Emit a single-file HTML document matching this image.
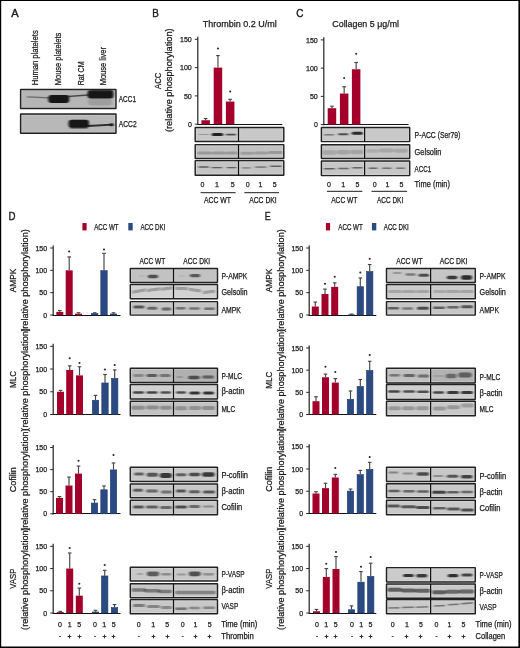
<!DOCTYPE html>
<html><head><meta charset="utf-8"><style>
html,body{margin:0;padding:0;background:#fff;}
body{width:520px;height:648px;overflow:hidden;font-family:"Liberation Sans", sans-serif;}
svg{display:block;will-change:transform;}
</style></head><body>
<svg width="520" height="648" viewBox="0 0 520 648" font-family='"Liberation Sans", sans-serif'>
<defs><filter id="bl" x="-20%" y="-100%" width="140%" height="300%"><feGaussianBlur stdDeviation="0.95 0.7"/></filter></defs>
<rect width="520" height="648" fill="#fff"/>
<line x1="0.60" y1="0.00" x2="0.60" y2="648.00" stroke="#000" stroke-width="1.2"/>
<line x1="0.00" y1="0.55" x2="520.00" y2="0.55" stroke="#000" stroke-width="1.1"/>
<line x1="519.20" y1="0.00" x2="519.20" y2="648.00" stroke="#000" stroke-width="1.6"/>
<line x1="0.00" y1="647.20" x2="520.00" y2="647.20" stroke="#000" stroke-width="1.6"/>
<text x="11.20" y="16.80" font-size="11.8" text-anchor="start" fill="#1a1a1a" stroke="#1a1a1a" stroke-width="0.4" textLength="7.40" lengthAdjust="spacingAndGlyphs">A</text>
<text transform="translate(38.10,85.30) rotate(-90)" x="0" y="0" font-size="9" text-anchor="start" fill="#1a1a1a" stroke="#1a1a1a" stroke-width="0.25" textLength="55.00" lengthAdjust="spacingAndGlyphs">Human platelets</text>
<text transform="translate(61.00,85.30) rotate(-90)" x="0" y="0" font-size="9" text-anchor="start" fill="#1a1a1a" stroke="#1a1a1a" stroke-width="0.25" textLength="52.60" lengthAdjust="spacingAndGlyphs">Mouse platelets</text>
<text transform="translate(84.10,85.30) rotate(-90)" x="0" y="0" font-size="9" text-anchor="start" fill="#1a1a1a" stroke="#1a1a1a" stroke-width="0.25" textLength="23.80" lengthAdjust="spacingAndGlyphs">Rat CM</text>
<text transform="translate(106.40,85.30) rotate(-90)" x="0" y="0" font-size="9" text-anchor="start" fill="#1a1a1a" stroke="#1a1a1a" stroke-width="0.25" textLength="38.30" lengthAdjust="spacingAndGlyphs">Mouse liver</text>
<rect x="20.60" y="89.40" width="95.40" height="19.10" fill="#b5b5b5" rx="0.3"/>
<g filter="url(#bl)">
<polygon points="27.00,96.15 49.50,97.15 49.50,98.45 27.00,97.45" fill="#141414" fill-opacity="0.48"/>
<rect x="48.30" y="95.00" width="20.90" height="8.00" rx="3.00" fill="#141414" fill-opacity="1.00"/>
<polygon points="68.00,95.75 88.00,94.25 88.00,95.75 68.00,97.25" fill="#141414" fill-opacity="0.68"/>
<rect x="87.50" y="90.00" width="26.00" height="8.60" rx="3.00" fill="#141414" fill-opacity="1.00"/>
<rect x="88.00" y="98.50" width="24.00" height="7.00" rx="3.00" fill="#141414" fill-opacity="0.13"/>
</g>
<rect x="21.85" y="90.65" width="92.90" height="16.60" fill="none" stroke="#fff" stroke-opacity="0.22" stroke-width="1"/>
<rect x="20.60" y="89.40" width="95.40" height="19.10" fill="none" stroke="#222222" stroke-width="1.45" rx="0.3"/>
<rect x="20.60" y="114.00" width="95.40" height="19.30" fill="#b8b8b8" rx="0.3"/>
<g filter="url(#bl)">
<rect x="68.50" y="119.80" width="20.50" height="8.00" rx="3.00" fill="#141414" fill-opacity="1.00"/>
<rect x="70.00" y="126.00" width="18.00" height="3.00" rx="1.50" fill="#141414" fill-opacity="0.44"/>
<polygon points="88.00,125.05 112.00,123.65 112.00,125.55 88.00,126.95" fill="#141414" fill-opacity="0.87"/>
<rect x="109.50" y="123.30" width="4.30" height="3.00" rx="1.50" fill="#141414" fill-opacity="0.97"/>
</g>
<rect x="21.85" y="115.25" width="92.90" height="16.80" fill="none" stroke="#fff" stroke-opacity="0.22" stroke-width="1"/>
<rect x="20.60" y="114.00" width="95.40" height="19.30" fill="none" stroke="#222222" stroke-width="1.45" rx="0.3"/>
<text x="118.80" y="102.24" font-size="8.5" text-anchor="start" fill="#1a1a1a" stroke="#1a1a1a" stroke-width="0.25" textLength="17.20" lengthAdjust="spacingAndGlyphs">ACC1</text>
<text x="118.80" y="127.24" font-size="8.5" text-anchor="start" fill="#1a1a1a" stroke="#1a1a1a" stroke-width="0.25" textLength="17.80" lengthAdjust="spacingAndGlyphs">ACC2</text>
<text x="152.20" y="16.80" font-size="11.8" text-anchor="start" fill="#1a1a1a" stroke="#1a1a1a" stroke-width="0.4" textLength="6.60" lengthAdjust="spacingAndGlyphs">B</text>
<text x="202.70" y="26.57" font-size="9.4" text-anchor="start" fill="#1a1a1a" stroke="#1a1a1a" stroke-width="0.25" textLength="74.00" lengthAdjust="spacingAndGlyphs">Thrombin 0.2 U/ml</text>
<text transform="translate(161.00,80.85) rotate(-90)" x="0" y="0" font-size="9.8" text-anchor="middle" fill="#1a1a1a" stroke="#1a1a1a" stroke-width="0.25" textLength="16.30" lengthAdjust="spacingAndGlyphs">ACC</text>
<text transform="translate(172.00,80.20) rotate(-90)" x="0" y="0" font-size="9.8" text-anchor="middle" fill="#1a1a1a" stroke="#1a1a1a" stroke-width="0.25" textLength="103.70" lengthAdjust="spacingAndGlyphs">(relative phosphorylation)</text>
<line x1="197.80" y1="36.70" x2="197.80" y2="124.80" stroke="#2a2a2a" stroke-width="1.25"/>
<line x1="197.20" y1="124.50" x2="282.30" y2="124.50" stroke="#141414" stroke-width="1.0"/>
<line x1="194.80" y1="124.20" x2="197.80" y2="124.20" stroke="#2a2a2a" stroke-width="1"/>
<text x="191.80" y="126.89" font-size="7.5" text-anchor="end" fill="#1a1a1a" stroke="#1a1a1a" stroke-width="0.25" textLength="3.90" lengthAdjust="spacingAndGlyphs">0</text>
<line x1="194.80" y1="95.90" x2="197.80" y2="95.90" stroke="#2a2a2a" stroke-width="1"/>
<text x="191.80" y="98.59" font-size="7.5" text-anchor="end" fill="#1a1a1a" stroke="#1a1a1a" stroke-width="0.25" textLength="7.90" lengthAdjust="spacingAndGlyphs">50</text>
<line x1="194.80" y1="67.60" x2="197.80" y2="67.60" stroke="#2a2a2a" stroke-width="1"/>
<text x="191.80" y="70.28" font-size="7.5" text-anchor="end" fill="#1a1a1a" stroke="#1a1a1a" stroke-width="0.25" textLength="11.80" lengthAdjust="spacingAndGlyphs">100</text>
<line x1="194.80" y1="39.30" x2="197.80" y2="39.30" stroke="#2a2a2a" stroke-width="1"/>
<text x="191.80" y="41.98" font-size="7.5" text-anchor="end" fill="#1a1a1a" stroke="#1a1a1a" stroke-width="0.25" textLength="11.80" lengthAdjust="spacingAndGlyphs">150</text>
<line x1="205.65" y1="120.24" x2="205.65" y2="118.54" stroke="#454545" stroke-width="1.15"/>
<line x1="203.85" y1="118.54" x2="207.45" y2="118.54" stroke="#454545" stroke-width="1.15"/>
<rect x="201.40" y="120.24" width="8.50" height="3.96" fill="#a3002b"/>
<line x1="217.95" y1="67.60" x2="217.95" y2="55.60" stroke="#454545" stroke-width="1.15"/>
<line x1="216.15" y1="55.60" x2="219.75" y2="55.60" stroke="#454545" stroke-width="1.15"/>
<rect x="213.70" y="67.60" width="8.50" height="56.60" fill="#a3002b"/>
<circle cx="217.95" cy="48.50" r="1.05" fill="#2a2a2a"/>
<line x1="230.15" y1="101.56" x2="230.15" y2="99.30" stroke="#454545" stroke-width="1.15"/>
<line x1="228.35" y1="99.30" x2="231.95" y2="99.30" stroke="#454545" stroke-width="1.15"/>
<rect x="225.90" y="101.56" width="8.50" height="22.64" fill="#a3002b"/>
<circle cx="230.15" cy="91.50" r="1.05" fill="#2a2a2a"/>
<rect x="195.20" y="127.40" width="88.60" height="14.10" fill="#c8c8c8" rx="0.3"/>
<g filter="url(#bl)">
<rect x="198.40" y="133.90" width="10.60" height="1.00" rx="0.50" fill="#141414" fill-opacity="0.24"/>
<rect x="211.70" y="132.90" width="11.50" height="3.20" rx="1.60" fill="#141414" fill-opacity="0.95"/>
<rect x="225.80" y="133.80" width="10.30" height="1.60" rx="0.80" fill="#141414" fill-opacity="0.68"/>
</g>
<rect x="196.45" y="128.65" width="86.10" height="11.60" fill="none" stroke="#fff" stroke-opacity="0.22" stroke-width="1"/>
<line x1="237.30" y1="128.40" x2="237.30" y2="140.50" stroke="#fff" stroke-width="1" stroke-opacity="0.22"/>
<line x1="239.70" y1="128.40" x2="239.70" y2="140.50" stroke="#fff" stroke-width="1" stroke-opacity="0.22"/>
<rect x="195.20" y="127.40" width="88.60" height="14.10" fill="none" stroke="#222222" stroke-width="1.45" rx="0.3"/>
<line x1="238.50" y1="127.40" x2="238.50" y2="141.50" stroke="#111" stroke-width="1.25"/>
<rect x="195.20" y="144.60" width="88.60" height="13.90" fill="#c2c2c2" rx="0.3"/>
<g filter="url(#bl)">
<rect x="197.00" y="151.50" width="15.00" height="3.00" rx="1.50" fill="#141414" fill-opacity="0.21"/>
<rect x="212.00" y="151.50" width="14.00" height="3.00" rx="1.50" fill="#141414" fill-opacity="0.21"/>
<rect x="226.00" y="151.50" width="12.00" height="3.00" rx="1.50" fill="#141414" fill-opacity="0.21"/>
<rect x="240.00" y="151.70" width="14.00" height="3.00" rx="1.50" fill="#141414" fill-opacity="0.19"/>
<rect x="254.00" y="151.50" width="14.00" height="3.00" rx="1.50" fill="#141414" fill-opacity="0.19"/>
<rect x="268.00" y="151.00" width="15.00" height="3.00" rx="1.50" fill="#141414" fill-opacity="0.21"/>
</g>
<rect x="196.45" y="145.85" width="86.10" height="11.40" fill="none" stroke="#fff" stroke-opacity="0.22" stroke-width="1"/>
<line x1="237.30" y1="145.60" x2="237.30" y2="157.50" stroke="#fff" stroke-width="1" stroke-opacity="0.22"/>
<line x1="239.70" y1="145.60" x2="239.70" y2="157.50" stroke="#fff" stroke-width="1" stroke-opacity="0.22"/>
<rect x="195.20" y="144.60" width="88.60" height="13.90" fill="none" stroke="#222222" stroke-width="1.45" rx="0.3"/>
<line x1="238.50" y1="144.60" x2="238.50" y2="158.50" stroke="#111" stroke-width="1.25"/>
<rect x="195.20" y="160.60" width="88.60" height="14.60" fill="#c4c4c4" rx="0.3"/>
<g filter="url(#bl)">
<rect x="198.40" y="166.30" width="10.60" height="1.40" rx="0.70" fill="#141414" fill-opacity="0.63"/>
<rect x="211.50" y="166.90" width="10.80" height="1.40" rx="0.70" fill="#141414" fill-opacity="0.58"/>
<rect x="226.70" y="166.90" width="9.80" height="1.40" rx="0.70" fill="#141414" fill-opacity="0.58"/>
<rect x="241.80" y="167.15" width="8.80" height="1.30" rx="0.65" fill="#141414" fill-opacity="0.44"/>
<rect x="255.00" y="166.40" width="11.50" height="1.40" rx="0.70" fill="#141414" fill-opacity="0.53"/>
<rect x="270.00" y="165.55" width="11.60" height="1.50" rx="0.75" fill="#141414" fill-opacity="0.58"/>
</g>
<rect x="196.45" y="161.85" width="86.10" height="12.10" fill="none" stroke="#fff" stroke-opacity="0.22" stroke-width="1"/>
<line x1="237.30" y1="161.60" x2="237.30" y2="174.20" stroke="#fff" stroke-width="1" stroke-opacity="0.22"/>
<line x1="239.70" y1="161.60" x2="239.70" y2="174.20" stroke="#fff" stroke-width="1" stroke-opacity="0.22"/>
<rect x="195.20" y="160.60" width="88.60" height="14.60" fill="none" stroke="#222222" stroke-width="1.45" rx="0.3"/>
<line x1="238.50" y1="160.60" x2="238.50" y2="175.20" stroke="#111" stroke-width="1.25"/>
<text x="202.50" y="186.83" font-size="7.9" text-anchor="middle" fill="#1a1a1a" stroke="#1a1a1a" stroke-width="0.25" textLength="3.90" lengthAdjust="spacingAndGlyphs">0</text>
<text x="216.90" y="186.83" font-size="7.9" text-anchor="middle" fill="#1a1a1a" stroke="#1a1a1a" stroke-width="0.25" textLength="3.90" lengthAdjust="spacingAndGlyphs">1</text>
<text x="232.70" y="186.83" font-size="7.9" text-anchor="middle" fill="#1a1a1a" stroke="#1a1a1a" stroke-width="0.25" textLength="3.90" lengthAdjust="spacingAndGlyphs">5</text>
<text x="247.70" y="186.83" font-size="7.9" text-anchor="middle" fill="#1a1a1a" stroke="#1a1a1a" stroke-width="0.25" textLength="3.90" lengthAdjust="spacingAndGlyphs">0</text>
<text x="260.40" y="186.83" font-size="7.9" text-anchor="middle" fill="#1a1a1a" stroke="#1a1a1a" stroke-width="0.25" textLength="3.90" lengthAdjust="spacingAndGlyphs">1</text>
<text x="274.60" y="186.83" font-size="7.9" text-anchor="middle" fill="#1a1a1a" stroke="#1a1a1a" stroke-width="0.25" textLength="3.90" lengthAdjust="spacingAndGlyphs">5</text>
<line x1="200.60" y1="192.70" x2="235.60" y2="192.70" stroke="#1a1a1a" stroke-width="1"/>
<line x1="244.40" y1="192.70" x2="279.00" y2="192.70" stroke="#1a1a1a" stroke-width="1"/>
<text x="204.00" y="203.14" font-size="8.2" text-anchor="start" fill="#1a1a1a" stroke="#1a1a1a" stroke-width="0.25" textLength="27.00" lengthAdjust="spacingAndGlyphs">ACC WT</text>
<text x="249.20" y="203.14" font-size="8.2" text-anchor="start" fill="#1a1a1a" stroke="#1a1a1a" stroke-width="0.25" textLength="27.50" lengthAdjust="spacingAndGlyphs">ACC DKI</text>
<text x="296.20" y="16.90" font-size="11.8" text-anchor="start" fill="#1a1a1a" stroke="#1a1a1a" stroke-width="0.4" textLength="7.20" lengthAdjust="spacingAndGlyphs">C</text>
<text x="332.30" y="26.57" font-size="9.4" text-anchor="start" fill="#1a1a1a" stroke="#1a1a1a" stroke-width="0.25" textLength="66.70" lengthAdjust="spacingAndGlyphs">Collagen 5 &#956;g/ml</text>
<line x1="323.80" y1="37.30" x2="323.80" y2="125.20" stroke="#2a2a2a" stroke-width="1.25"/>
<line x1="323.20" y1="124.50" x2="408.50" y2="124.50" stroke="#141414" stroke-width="1.0"/>
<line x1="320.80" y1="124.60" x2="323.80" y2="124.60" stroke="#2a2a2a" stroke-width="1"/>
<text x="317.80" y="127.28" font-size="7.5" text-anchor="end" fill="#1a1a1a" stroke="#1a1a1a" stroke-width="0.25" textLength="3.90" lengthAdjust="spacingAndGlyphs">0</text>
<line x1="320.80" y1="96.37" x2="323.80" y2="96.37" stroke="#2a2a2a" stroke-width="1"/>
<text x="317.80" y="99.05" font-size="7.5" text-anchor="end" fill="#1a1a1a" stroke="#1a1a1a" stroke-width="0.25" textLength="7.90" lengthAdjust="spacingAndGlyphs">50</text>
<line x1="320.80" y1="68.13" x2="323.80" y2="68.13" stroke="#2a2a2a" stroke-width="1"/>
<text x="317.80" y="70.82" font-size="7.5" text-anchor="end" fill="#1a1a1a" stroke="#1a1a1a" stroke-width="0.25" textLength="11.80" lengthAdjust="spacingAndGlyphs">100</text>
<line x1="320.80" y1="39.90" x2="323.80" y2="39.90" stroke="#2a2a2a" stroke-width="1"/>
<text x="317.80" y="42.59" font-size="7.5" text-anchor="end" fill="#1a1a1a" stroke="#1a1a1a" stroke-width="0.25" textLength="11.80" lengthAdjust="spacingAndGlyphs">150</text>
<line x1="331.95" y1="108.22" x2="331.95" y2="106.25" stroke="#454545" stroke-width="1.15"/>
<line x1="330.15" y1="106.25" x2="333.75" y2="106.25" stroke="#454545" stroke-width="1.15"/>
<rect x="327.70" y="108.22" width="8.50" height="16.38" fill="#a3002b"/>
<line x1="344.15" y1="93.54" x2="344.15" y2="86.77" stroke="#454545" stroke-width="1.15"/>
<line x1="342.35" y1="86.77" x2="345.95" y2="86.77" stroke="#454545" stroke-width="1.15"/>
<rect x="339.90" y="93.54" width="8.50" height="31.06" fill="#a3002b"/>
<circle cx="344.15" cy="78.00" r="1.05" fill="#2a2a2a"/>
<line x1="356.15" y1="69.26" x2="356.15" y2="62.49" stroke="#454545" stroke-width="1.15"/>
<line x1="354.35" y1="62.49" x2="357.95" y2="62.49" stroke="#454545" stroke-width="1.15"/>
<rect x="351.90" y="69.26" width="8.50" height="55.34" fill="#a3002b"/>
<circle cx="356.15" cy="53.80" r="1.05" fill="#2a2a2a"/>
<rect x="321.40" y="127.50" width="88.30" height="14.10" fill="#c8c8c8" rx="0.3"/>
<g filter="url(#bl)">
<rect x="323.90" y="133.95" width="10.30" height="1.50" rx="0.75" fill="#141414" fill-opacity="0.44"/>
<rect x="338.20" y="133.20" width="10.10" height="2.00" rx="1.00" fill="#141414" fill-opacity="0.68"/>
<rect x="351.80" y="131.80" width="11.00" height="3.00" rx="1.50" fill="#141414" fill-opacity="0.89"/>
</g>
<rect x="322.65" y="128.75" width="85.80" height="11.60" fill="none" stroke="#fff" stroke-opacity="0.22" stroke-width="1"/>
<line x1="363.40" y1="128.50" x2="363.40" y2="140.60" stroke="#fff" stroke-width="1" stroke-opacity="0.22"/>
<line x1="365.80" y1="128.50" x2="365.80" y2="140.60" stroke="#fff" stroke-width="1" stroke-opacity="0.22"/>
<rect x="321.40" y="127.50" width="88.30" height="14.10" fill="none" stroke="#222222" stroke-width="1.45" rx="0.3"/>
<line x1="364.60" y1="127.50" x2="364.60" y2="141.60" stroke="#111" stroke-width="1.25"/>
<rect x="321.40" y="144.70" width="88.30" height="13.90" fill="#c4c4c4" rx="0.3"/>
<g filter="url(#bl)">
<rect x="322.00" y="150.35" width="15.00" height="4.50" rx="2.25" fill="#141414" fill-opacity="0.15"/>
<rect x="337.00" y="149.95" width="13.00" height="4.50" rx="2.25" fill="#141414" fill-opacity="0.16"/>
<rect x="350.00" y="149.75" width="14.00" height="4.50" rx="2.25" fill="#141414" fill-opacity="0.16"/>
<rect x="366.00" y="149.25" width="13.00" height="3.50" rx="1.75" fill="#141414" fill-opacity="0.12"/>
<rect x="379.00" y="148.50" width="15.00" height="4.00" rx="2.00" fill="#141414" fill-opacity="0.15"/>
<rect x="394.00" y="148.70" width="14.00" height="4.00" rx="2.00" fill="#141414" fill-opacity="0.15"/>
</g>
<rect x="322.65" y="145.95" width="85.80" height="11.40" fill="none" stroke="#fff" stroke-opacity="0.22" stroke-width="1"/>
<line x1="363.40" y1="145.70" x2="363.40" y2="157.60" stroke="#fff" stroke-width="1" stroke-opacity="0.22"/>
<line x1="365.80" y1="145.70" x2="365.80" y2="157.60" stroke="#fff" stroke-width="1" stroke-opacity="0.22"/>
<rect x="321.40" y="144.70" width="88.30" height="13.90" fill="none" stroke="#222222" stroke-width="1.45" rx="0.3"/>
<line x1="364.60" y1="144.70" x2="364.60" y2="158.60" stroke="#111" stroke-width="1.25"/>
<rect x="321.40" y="161.00" width="88.30" height="14.60" fill="#c6c6c6" rx="0.3"/>
<g filter="url(#bl)">
<rect x="323.90" y="168.00" width="11.10" height="1.60" rx="0.80" fill="#141414" fill-opacity="0.58"/>
<rect x="338.00" y="167.70" width="11.00" height="1.60" rx="0.80" fill="#141414" fill-opacity="0.53"/>
<rect x="352.00" y="167.00" width="11.00" height="1.60" rx="0.80" fill="#141414" fill-opacity="0.53"/>
<rect x="368.70" y="167.55" width="8.80" height="1.50" rx="0.75" fill="#141414" fill-opacity="0.53"/>
<rect x="382.00" y="167.45" width="9.70" height="1.50" rx="0.75" fill="#141414" fill-opacity="0.48"/>
<rect x="396.00" y="167.45" width="9.00" height="1.50" rx="0.75" fill="#141414" fill-opacity="0.48"/>
</g>
<rect x="322.65" y="162.25" width="85.80" height="12.10" fill="none" stroke="#fff" stroke-opacity="0.22" stroke-width="1"/>
<line x1="363.40" y1="162.00" x2="363.40" y2="174.60" stroke="#fff" stroke-width="1" stroke-opacity="0.22"/>
<line x1="365.80" y1="162.00" x2="365.80" y2="174.60" stroke="#fff" stroke-width="1" stroke-opacity="0.22"/>
<rect x="321.40" y="161.00" width="88.30" height="14.60" fill="none" stroke="#222222" stroke-width="1.45" rx="0.3"/>
<line x1="364.60" y1="161.00" x2="364.60" y2="175.60" stroke="#111" stroke-width="1.25"/>
<text x="329.00" y="186.53" font-size="7.9" text-anchor="middle" fill="#1a1a1a" stroke="#1a1a1a" stroke-width="0.25" textLength="3.90" lengthAdjust="spacingAndGlyphs">0</text>
<text x="343.30" y="186.53" font-size="7.9" text-anchor="middle" fill="#1a1a1a" stroke="#1a1a1a" stroke-width="0.25" textLength="3.90" lengthAdjust="spacingAndGlyphs">1</text>
<text x="357.40" y="186.53" font-size="7.9" text-anchor="middle" fill="#1a1a1a" stroke="#1a1a1a" stroke-width="0.25" textLength="3.90" lengthAdjust="spacingAndGlyphs">5</text>
<text x="374.70" y="186.53" font-size="7.9" text-anchor="middle" fill="#1a1a1a" stroke="#1a1a1a" stroke-width="0.25" textLength="3.90" lengthAdjust="spacingAndGlyphs">0</text>
<text x="387.50" y="186.53" font-size="7.9" text-anchor="middle" fill="#1a1a1a" stroke="#1a1a1a" stroke-width="0.25" textLength="3.90" lengthAdjust="spacingAndGlyphs">1</text>
<text x="401.50" y="186.53" font-size="7.9" text-anchor="middle" fill="#1a1a1a" stroke="#1a1a1a" stroke-width="0.25" textLength="3.90" lengthAdjust="spacingAndGlyphs">5</text>
<line x1="327.00" y1="191.30" x2="362.30" y2="191.30" stroke="#1a1a1a" stroke-width="1"/>
<line x1="371.50" y1="191.30" x2="407.10" y2="191.30" stroke="#1a1a1a" stroke-width="1"/>
<text x="331.20" y="203.04" font-size="8.2" text-anchor="start" fill="#1a1a1a" stroke="#1a1a1a" stroke-width="0.25" textLength="26.20" lengthAdjust="spacingAndGlyphs">ACC WT</text>
<text x="377.00" y="203.04" font-size="8.2" text-anchor="start" fill="#1a1a1a" stroke="#1a1a1a" stroke-width="0.25" textLength="26.20" lengthAdjust="spacingAndGlyphs">ACC DKI</text>
<text x="414.60" y="137.94" font-size="8.2" text-anchor="start" fill="#1a1a1a" stroke="#1a1a1a" stroke-width="0.25" textLength="45.80" lengthAdjust="spacingAndGlyphs">P-ACC (Ser79)</text>
<text x="414.60" y="154.64" font-size="8.2" text-anchor="start" fill="#1a1a1a" stroke="#1a1a1a" stroke-width="0.25" textLength="26.80" lengthAdjust="spacingAndGlyphs">Gelsolin</text>
<text x="414.60" y="171.94" font-size="8.2" text-anchor="start" fill="#1a1a1a" stroke="#1a1a1a" stroke-width="0.25" textLength="16.50" lengthAdjust="spacingAndGlyphs">ACC1</text>
<text x="414.60" y="186.64" font-size="8.2" text-anchor="start" fill="#1a1a1a" stroke="#1a1a1a" stroke-width="0.25" textLength="35.30" lengthAdjust="spacingAndGlyphs">Time (min)</text>
<text x="8.40" y="220.00" font-size="11.8" text-anchor="start" fill="#1a1a1a" stroke="#1a1a1a" stroke-width="0.4" textLength="7.00" lengthAdjust="spacingAndGlyphs">D</text>
<text x="264.70" y="220.00" font-size="11.8" text-anchor="start" fill="#1a1a1a" stroke="#1a1a1a" stroke-width="0.4" textLength="6.00" lengthAdjust="spacingAndGlyphs">E</text>
<rect x="82.40" y="223.00" width="4.20" height="7.40" fill="#a3002b"/>
<rect x="128.30" y="223.00" width="4.40" height="7.40" fill="#2b4a82"/>
<text x="94.20" y="230.24" font-size="8.2" text-anchor="start" fill="#1a1a1a" stroke="#1a1a1a" stroke-width="0.25" textLength="24.40" lengthAdjust="spacingAndGlyphs">ACC WT</text>
<text x="140.40" y="230.24" font-size="8.2" text-anchor="start" fill="#1a1a1a" stroke="#1a1a1a" stroke-width="0.25" textLength="25.00" lengthAdjust="spacingAndGlyphs">ACC DKI</text>
<rect x="325.90" y="223.00" width="4.20" height="7.40" fill="#a3002b"/>
<rect x="371.90" y="223.00" width="4.40" height="7.40" fill="#2b4a82"/>
<text x="338.30" y="230.24" font-size="8.2" text-anchor="start" fill="#1a1a1a" stroke="#1a1a1a" stroke-width="0.25" textLength="24.40" lengthAdjust="spacingAndGlyphs">ACC WT</text>
<text x="383.80" y="230.24" font-size="8.2" text-anchor="start" fill="#1a1a1a" stroke="#1a1a1a" stroke-width="0.25" textLength="25.00" lengthAdjust="spacingAndGlyphs">ACC DKI</text>
<line x1="53.20" y1="245.40" x2="53.20" y2="315.60" stroke="#2a2a2a" stroke-width="1.25"/>
<line x1="52.60" y1="315.50" x2="120.50" y2="315.50" stroke="#141414" stroke-width="1.0"/>
<line x1="50.20" y1="315.00" x2="53.20" y2="315.00" stroke="#2a2a2a" stroke-width="1"/>
<text x="47.20" y="317.69" font-size="7.5" text-anchor="end" fill="#1a1a1a" stroke="#1a1a1a" stroke-width="0.25" textLength="3.90" lengthAdjust="spacingAndGlyphs">0</text>
<line x1="50.20" y1="292.67" x2="53.20" y2="292.67" stroke="#2a2a2a" stroke-width="1"/>
<text x="47.20" y="295.35" font-size="7.5" text-anchor="end" fill="#1a1a1a" stroke="#1a1a1a" stroke-width="0.25" textLength="7.90" lengthAdjust="spacingAndGlyphs">50</text>
<line x1="50.20" y1="270.33" x2="53.20" y2="270.33" stroke="#2a2a2a" stroke-width="1"/>
<text x="47.20" y="273.02" font-size="7.5" text-anchor="end" fill="#1a1a1a" stroke="#1a1a1a" stroke-width="0.25" textLength="11.80" lengthAdjust="spacingAndGlyphs">100</text>
<line x1="50.20" y1="248.00" x2="53.20" y2="248.00" stroke="#2a2a2a" stroke-width="1"/>
<text x="47.20" y="250.69" font-size="7.5" text-anchor="end" fill="#1a1a1a" stroke="#1a1a1a" stroke-width="0.25" textLength="11.80" lengthAdjust="spacingAndGlyphs">150</text>
<line x1="59.80" y1="311.87" x2="59.80" y2="310.53" stroke="#454545" stroke-width="1.15"/>
<line x1="58.00" y1="310.53" x2="61.60" y2="310.53" stroke="#454545" stroke-width="1.15"/>
<rect x="56.30" y="311.87" width="7.00" height="3.13" fill="#a3002b"/>
<line x1="69.20" y1="270.33" x2="69.20" y2="256.93" stroke="#454545" stroke-width="1.15"/>
<line x1="67.40" y1="256.93" x2="71.00" y2="256.93" stroke="#454545" stroke-width="1.15"/>
<rect x="65.70" y="270.33" width="7.00" height="44.67" fill="#a3002b"/>
<circle cx="69.20" cy="251.50" r="1.05" fill="#2a2a2a"/>
<line x1="78.50" y1="313.66" x2="78.50" y2="312.77" stroke="#454545" stroke-width="1.15"/>
<line x1="76.70" y1="312.77" x2="80.30" y2="312.77" stroke="#454545" stroke-width="1.15"/>
<rect x="75.00" y="313.66" width="7.00" height="1.34" fill="#a3002b"/>
<line x1="94.70" y1="313.21" x2="94.70" y2="312.77" stroke="#454545" stroke-width="1.15"/>
<line x1="92.90" y1="312.77" x2="96.50" y2="312.77" stroke="#454545" stroke-width="1.15"/>
<rect x="91.50" y="313.51" width="6.40" height="1.49" fill="#2b4a82" stroke="#1f3b70" stroke-width="0.6"/>
<line x1="104.00" y1="270.33" x2="104.00" y2="253.36" stroke="#454545" stroke-width="1.15"/>
<line x1="102.20" y1="253.36" x2="105.80" y2="253.36" stroke="#454545" stroke-width="1.15"/>
<rect x="100.80" y="270.63" width="6.40" height="44.37" fill="#2b4a82" stroke="#1f3b70" stroke-width="0.6"/>
<circle cx="104.00" cy="249.50" r="1.05" fill="#2a2a2a"/>
<line x1="113.50" y1="313.66" x2="113.50" y2="312.77" stroke="#454545" stroke-width="1.15"/>
<line x1="111.70" y1="312.77" x2="115.30" y2="312.77" stroke="#454545" stroke-width="1.15"/>
<rect x="110.30" y="313.96" width="6.40" height="1.04" fill="#2b4a82" stroke="#1f3b70" stroke-width="0.6"/>
<text transform="translate(16.10,280.50) rotate(-90)" x="0" y="0" font-size="9.5" text-anchor="middle" fill="#1a1a1a" stroke="#1a1a1a" stroke-width="0.25" textLength="23.50" lengthAdjust="spacingAndGlyphs">AMPK</text>
<text transform="translate(28.40,280.50) rotate(-90)" x="0" y="0" font-size="9.8" text-anchor="middle" fill="#1a1a1a" stroke="#1a1a1a" stroke-width="0.25" textLength="102.50" lengthAdjust="spacingAndGlyphs">(relative phosphorylation)</text>
<rect x="130.30" y="268.40" width="87.20" height="14.00" fill="#c2c2c2" rx="0.3"/>
<g filter="url(#bl)">
<rect x="138.60" y="275.25" width="6.40" height="1.50" rx="0.75" fill="#141414" fill-opacity="0.08"/>
<rect x="147.80" y="274.75" width="10.30" height="3.50" rx="1.75" fill="#141414" fill-opacity="0.66"/>
<rect x="178.40" y="275.25" width="6.20" height="1.50" rx="0.75" fill="#141414" fill-opacity="0.08"/>
<rect x="189.90" y="274.00" width="10.30" height="3.20" rx="1.60" fill="#141414" fill-opacity="0.60"/>
</g>
<rect x="131.55" y="269.65" width="84.70" height="11.50" fill="none" stroke="#fff" stroke-opacity="0.22" stroke-width="1"/>
<line x1="172.30" y1="269.40" x2="172.30" y2="281.40" stroke="#fff" stroke-width="1" stroke-opacity="0.22"/>
<line x1="174.70" y1="269.40" x2="174.70" y2="281.40" stroke="#fff" stroke-width="1" stroke-opacity="0.22"/>
<rect x="130.30" y="268.40" width="87.20" height="14.00" fill="none" stroke="#222222" stroke-width="1.45" rx="0.3"/>
<line x1="173.50" y1="268.40" x2="173.50" y2="282.40" stroke="#111" stroke-width="1.25"/>
<text x="221.40" y="278.57" font-size="8.3" text-anchor="start" fill="#1a1a1a" stroke="#1a1a1a" stroke-width="0.25" textLength="26.00" lengthAdjust="spacingAndGlyphs">P-AMPK</text>
<rect x="130.30" y="284.50" width="87.20" height="14.20" fill="#d2d2d2" rx="0.3"/>
<g filter="url(#bl)">
<polygon points="132.00,290.70 146.00,288.30 146.00,291.30 132.00,293.70" fill="#141414" fill-opacity="0.29"/>
<polygon points="147.00,289.10 160.50,287.30 160.50,290.30 147.00,292.10" fill="#141414" fill-opacity="0.29"/>
<polygon points="161.50,287.70 173.00,286.30 173.00,289.30 161.50,290.70" fill="#141414" fill-opacity="0.29"/>
<polygon points="175.00,286.80 188.00,287.30 188.00,290.30 175.00,289.80" fill="#141414" fill-opacity="0.29"/>
<polygon points="189.00,287.70 201.00,289.50 201.00,292.50 189.00,290.70" fill="#141414" fill-opacity="0.29"/>
<polygon points="203.00,291.10 215.00,289.70 215.00,292.70 203.00,294.10" fill="#141414" fill-opacity="0.29"/>
</g>
<rect x="131.55" y="285.75" width="84.70" height="11.70" fill="none" stroke="#fff" stroke-opacity="0.22" stroke-width="1"/>
<line x1="172.30" y1="285.50" x2="172.30" y2="297.70" stroke="#fff" stroke-width="1" stroke-opacity="0.22"/>
<line x1="174.70" y1="285.50" x2="174.70" y2="297.70" stroke="#fff" stroke-width="1" stroke-opacity="0.22"/>
<rect x="130.30" y="284.50" width="87.20" height="14.20" fill="none" stroke="#222222" stroke-width="1.45" rx="0.3"/>
<line x1="173.50" y1="284.50" x2="173.50" y2="298.70" stroke="#111" stroke-width="1.25"/>
<text x="221.40" y="294.77" font-size="8.3" text-anchor="start" fill="#1a1a1a" stroke="#1a1a1a" stroke-width="0.25" textLength="26.20" lengthAdjust="spacingAndGlyphs">Gelsolin</text>
<rect x="130.30" y="301.60" width="87.20" height="13.50" fill="#c4c4c4" rx="0.3"/>
<g filter="url(#bl)">
<rect x="133.30" y="305.40" width="11.00" height="3.00" rx="1.50" fill="#141414" fill-opacity="0.63"/>
<rect x="147.10" y="306.70" width="10.10" height="3.00" rx="1.50" fill="#141414" fill-opacity="0.53"/>
<rect x="161.60" y="307.50" width="9.70" height="3.00" rx="1.50" fill="#141414" fill-opacity="0.53"/>
<rect x="175.80" y="307.05" width="9.70" height="2.50" rx="1.25" fill="#141414" fill-opacity="0.48"/>
<rect x="189.00" y="307.25" width="10.70" height="2.50" rx="1.25" fill="#141414" fill-opacity="0.48"/>
<rect x="204.00" y="307.45" width="10.70" height="2.50" rx="1.25" fill="#141414" fill-opacity="0.48"/>
</g>
<rect x="131.55" y="302.85" width="84.70" height="11.00" fill="none" stroke="#fff" stroke-opacity="0.22" stroke-width="1"/>
<line x1="172.30" y1="302.60" x2="172.30" y2="314.10" stroke="#fff" stroke-width="1" stroke-opacity="0.22"/>
<line x1="174.70" y1="302.60" x2="174.70" y2="314.10" stroke="#fff" stroke-width="1" stroke-opacity="0.22"/>
<rect x="130.30" y="301.60" width="87.20" height="13.50" fill="none" stroke="#222222" stroke-width="1.45" rx="0.3"/>
<line x1="173.50" y1="301.60" x2="173.50" y2="315.10" stroke="#111" stroke-width="1.25"/>
<text x="221.40" y="312.57" font-size="8.3" text-anchor="start" fill="#1a1a1a" stroke="#1a1a1a" stroke-width="0.25" textLength="19.40" lengthAdjust="spacingAndGlyphs">AMPK</text>
<line x1="53.20" y1="343.70" x2="53.20" y2="415.10" stroke="#2a2a2a" stroke-width="1.25"/>
<line x1="52.60" y1="414.50" x2="120.50" y2="414.50" stroke="#141414" stroke-width="1.0"/>
<line x1="50.20" y1="414.50" x2="53.20" y2="414.50" stroke="#2a2a2a" stroke-width="1"/>
<text x="47.20" y="417.19" font-size="7.5" text-anchor="end" fill="#1a1a1a" stroke="#1a1a1a" stroke-width="0.25" textLength="3.90" lengthAdjust="spacingAndGlyphs">0</text>
<line x1="50.20" y1="391.77" x2="53.20" y2="391.77" stroke="#2a2a2a" stroke-width="1"/>
<text x="47.20" y="394.45" font-size="7.5" text-anchor="end" fill="#1a1a1a" stroke="#1a1a1a" stroke-width="0.25" textLength="7.90" lengthAdjust="spacingAndGlyphs">50</text>
<line x1="50.20" y1="369.03" x2="53.20" y2="369.03" stroke="#2a2a2a" stroke-width="1"/>
<text x="47.20" y="371.72" font-size="7.5" text-anchor="end" fill="#1a1a1a" stroke="#1a1a1a" stroke-width="0.25" textLength="11.80" lengthAdjust="spacingAndGlyphs">100</text>
<line x1="50.20" y1="346.30" x2="53.20" y2="346.30" stroke="#2a2a2a" stroke-width="1"/>
<text x="47.20" y="348.99" font-size="7.5" text-anchor="end" fill="#1a1a1a" stroke="#1a1a1a" stroke-width="0.25" textLength="11.80" lengthAdjust="spacingAndGlyphs">150</text>
<line x1="60.50" y1="391.77" x2="60.50" y2="390.40" stroke="#454545" stroke-width="1.15"/>
<line x1="58.70" y1="390.40" x2="62.30" y2="390.40" stroke="#454545" stroke-width="1.15"/>
<rect x="57.00" y="391.77" width="7.00" height="22.73" fill="#a3002b"/>
<line x1="69.70" y1="369.94" x2="69.70" y2="365.85" stroke="#454545" stroke-width="1.15"/>
<line x1="67.90" y1="365.85" x2="71.50" y2="365.85" stroke="#454545" stroke-width="1.15"/>
<rect x="66.20" y="369.94" width="7.00" height="44.56" fill="#a3002b"/>
<circle cx="69.70" cy="358.30" r="1.05" fill="#2a2a2a"/>
<line x1="79.50" y1="375.40" x2="79.50" y2="366.76" stroke="#454545" stroke-width="1.15"/>
<line x1="77.70" y1="366.76" x2="81.30" y2="366.76" stroke="#454545" stroke-width="1.15"/>
<rect x="76.00" y="375.40" width="7.00" height="39.10" fill="#a3002b"/>
<circle cx="79.50" cy="363.00" r="1.05" fill="#2a2a2a"/>
<line x1="95.50" y1="399.95" x2="95.50" y2="395.40" stroke="#454545" stroke-width="1.15"/>
<line x1="93.70" y1="395.40" x2="97.30" y2="395.40" stroke="#454545" stroke-width="1.15"/>
<rect x="92.30" y="400.25" width="6.40" height="14.25" fill="#2b4a82" stroke="#1f3b70" stroke-width="0.6"/>
<line x1="105.00" y1="382.67" x2="105.00" y2="374.49" stroke="#454545" stroke-width="1.15"/>
<line x1="103.20" y1="374.49" x2="106.80" y2="374.49" stroke="#454545" stroke-width="1.15"/>
<rect x="101.80" y="382.97" width="6.40" height="31.53" fill="#2b4a82" stroke="#1f3b70" stroke-width="0.6"/>
<circle cx="105.00" cy="369.50" r="1.05" fill="#2a2a2a"/>
<line x1="114.70" y1="378.13" x2="114.70" y2="369.94" stroke="#454545" stroke-width="1.15"/>
<line x1="112.90" y1="369.94" x2="116.50" y2="369.94" stroke="#454545" stroke-width="1.15"/>
<rect x="111.50" y="378.43" width="6.40" height="36.07" fill="#2b4a82" stroke="#1f3b70" stroke-width="0.6"/>
<circle cx="114.70" cy="365.00" r="1.05" fill="#2a2a2a"/>
<text transform="translate(16.10,379.40) rotate(-90)" x="0" y="0" font-size="9.5" text-anchor="middle" fill="#1a1a1a" stroke="#1a1a1a" stroke-width="0.25" textLength="17.00" lengthAdjust="spacingAndGlyphs">MLC</text>
<text transform="translate(28.40,379.40) rotate(-90)" x="0" y="0" font-size="9.8" text-anchor="middle" fill="#1a1a1a" stroke="#1a1a1a" stroke-width="0.25" textLength="102.50" lengthAdjust="spacingAndGlyphs">(relative phosphorylation)</text>
<rect x="130.30" y="368.30" width="43.20" height="14.20" fill="#bababa"/>
<rect x="173.50" y="368.30" width="44.00" height="14.20" fill="#b0b0b0"/>
<g filter="url(#bl)">
<rect x="133.30" y="374.35" width="10.60" height="2.50" rx="1.25" fill="#141414" fill-opacity="0.34"/>
<rect x="146.60" y="374.10" width="10.60" height="3.00" rx="1.50" fill="#141414" fill-opacity="0.58"/>
<rect x="159.80" y="374.10" width="10.70" height="3.00" rx="1.50" fill="#141414" fill-opacity="0.44"/>
<rect x="176.70" y="376.00" width="6.10" height="2.00" rx="1.00" fill="#141414" fill-opacity="0.17"/>
<rect x="188.20" y="375.65" width="11.50" height="3.50" rx="1.75" fill="#141414" fill-opacity="0.63"/>
<rect x="202.30" y="375.50" width="11.50" height="3.00" rx="1.50" fill="#141414" fill-opacity="0.53"/>
</g>
<rect x="131.55" y="369.55" width="84.70" height="11.70" fill="none" stroke="#fff" stroke-opacity="0.22" stroke-width="1"/>
<line x1="172.30" y1="369.30" x2="172.30" y2="381.50" stroke="#fff" stroke-width="1" stroke-opacity="0.22"/>
<line x1="174.70" y1="369.30" x2="174.70" y2="381.50" stroke="#fff" stroke-width="1" stroke-opacity="0.22"/>
<rect x="130.30" y="368.30" width="87.20" height="14.20" fill="none" stroke="#222222" stroke-width="1.45" rx="0.3"/>
<line x1="173.50" y1="368.30" x2="173.50" y2="382.50" stroke="#111" stroke-width="1.25"/>
<text x="221.40" y="379.07" font-size="8.3" text-anchor="start" fill="#1a1a1a" stroke="#1a1a1a" stroke-width="0.25" textLength="20.60" lengthAdjust="spacingAndGlyphs">P-MLC</text>
<rect x="130.30" y="384.40" width="87.20" height="14.60" fill="#d0d0d0" rx="0.3"/>
<g filter="url(#bl)">
<rect x="133.00" y="391.15" width="11.00" height="2.50" rx="1.25" fill="#141414" fill-opacity="0.73"/>
<rect x="146.50" y="391.15" width="11.00" height="2.50" rx="1.25" fill="#141414" fill-opacity="0.73"/>
<rect x="160.50" y="391.35" width="10.50" height="2.50" rx="1.25" fill="#141414" fill-opacity="0.68"/>
<rect x="176.00" y="391.35" width="10.00" height="2.50" rx="1.25" fill="#141414" fill-opacity="0.68"/>
<rect x="189.50" y="391.50" width="10.50" height="3.00" rx="1.50" fill="#141414" fill-opacity="0.82"/>
<rect x="203.00" y="391.50" width="11.00" height="3.00" rx="1.50" fill="#141414" fill-opacity="0.82"/>
</g>
<rect x="131.55" y="385.65" width="84.70" height="12.10" fill="none" stroke="#fff" stroke-opacity="0.22" stroke-width="1"/>
<line x1="172.30" y1="385.40" x2="172.30" y2="398.00" stroke="#fff" stroke-width="1" stroke-opacity="0.22"/>
<line x1="174.70" y1="385.40" x2="174.70" y2="398.00" stroke="#fff" stroke-width="1" stroke-opacity="0.22"/>
<rect x="130.30" y="384.40" width="87.20" height="14.60" fill="none" stroke="#222222" stroke-width="1.45" rx="0.3"/>
<line x1="173.50" y1="384.40" x2="173.50" y2="399.00" stroke="#111" stroke-width="1.25"/>
<text x="221.40" y="394.47" font-size="8.3" text-anchor="start" fill="#1a1a1a" stroke="#1a1a1a" stroke-width="0.25" textLength="23.00" lengthAdjust="spacingAndGlyphs">&#946;-actin</text>
<rect x="130.30" y="401.20" width="87.20" height="14.50" fill="#c2c2c2" rx="0.3"/>
<g filter="url(#bl)">
<rect x="131.00" y="405.80" width="14.00" height="4.00" rx="2.00" fill="#141414" fill-opacity="0.27"/>
<rect x="146.00" y="405.50" width="13.00" height="4.00" rx="2.00" fill="#141414" fill-opacity="0.27"/>
<rect x="160.00" y="405.80" width="12.00" height="4.00" rx="2.00" fill="#141414" fill-opacity="0.27"/>
<rect x="175.00" y="406.30" width="12.00" height="4.00" rx="2.00" fill="#141414" fill-opacity="0.29"/>
<rect x="189.00" y="406.00" width="12.00" height="4.00" rx="2.00" fill="#141414" fill-opacity="0.29"/>
<rect x="202.00" y="406.00" width="13.00" height="4.00" rx="2.00" fill="#141414" fill-opacity="0.27"/>
</g>
<rect x="131.55" y="402.45" width="84.70" height="12.00" fill="none" stroke="#fff" stroke-opacity="0.22" stroke-width="1"/>
<line x1="172.30" y1="402.20" x2="172.30" y2="414.70" stroke="#fff" stroke-width="1" stroke-opacity="0.22"/>
<line x1="174.70" y1="402.20" x2="174.70" y2="414.70" stroke="#fff" stroke-width="1" stroke-opacity="0.22"/>
<rect x="130.30" y="401.20" width="87.20" height="14.50" fill="none" stroke="#222222" stroke-width="1.45" rx="0.3"/>
<line x1="173.50" y1="401.20" x2="173.50" y2="415.70" stroke="#111" stroke-width="1.25"/>
<text x="221.40" y="412.17" font-size="8.3" text-anchor="start" fill="#1a1a1a" stroke="#1a1a1a" stroke-width="0.25" textLength="13.90" lengthAdjust="spacingAndGlyphs">MLC</text>
<line x1="53.20" y1="444.90" x2="53.20" y2="514.40" stroke="#2a2a2a" stroke-width="1.25"/>
<line x1="52.60" y1="513.50" x2="120.50" y2="513.50" stroke="#141414" stroke-width="1.0"/>
<line x1="50.20" y1="513.80" x2="53.20" y2="513.80" stroke="#2a2a2a" stroke-width="1"/>
<text x="47.20" y="516.48" font-size="7.5" text-anchor="end" fill="#1a1a1a" stroke="#1a1a1a" stroke-width="0.25" textLength="3.90" lengthAdjust="spacingAndGlyphs">0</text>
<line x1="50.20" y1="491.70" x2="53.20" y2="491.70" stroke="#2a2a2a" stroke-width="1"/>
<text x="47.20" y="494.38" font-size="7.5" text-anchor="end" fill="#1a1a1a" stroke="#1a1a1a" stroke-width="0.25" textLength="7.90" lengthAdjust="spacingAndGlyphs">50</text>
<line x1="50.20" y1="469.60" x2="53.20" y2="469.60" stroke="#2a2a2a" stroke-width="1"/>
<text x="47.20" y="472.28" font-size="7.5" text-anchor="end" fill="#1a1a1a" stroke="#1a1a1a" stroke-width="0.25" textLength="11.80" lengthAdjust="spacingAndGlyphs">100</text>
<line x1="50.20" y1="447.50" x2="53.20" y2="447.50" stroke="#2a2a2a" stroke-width="1"/>
<text x="47.20" y="450.19" font-size="7.5" text-anchor="end" fill="#1a1a1a" stroke="#1a1a1a" stroke-width="0.25" textLength="11.80" lengthAdjust="spacingAndGlyphs">150</text>
<line x1="59.50" y1="497.89" x2="59.50" y2="496.56" stroke="#454545" stroke-width="1.15"/>
<line x1="57.70" y1="496.56" x2="61.30" y2="496.56" stroke="#454545" stroke-width="1.15"/>
<rect x="56.00" y="497.89" width="7.00" height="15.91" fill="#a3002b"/>
<line x1="69.00" y1="485.51" x2="69.00" y2="477.11" stroke="#454545" stroke-width="1.15"/>
<line x1="67.20" y1="477.11" x2="70.80" y2="477.11" stroke="#454545" stroke-width="1.15"/>
<rect x="65.50" y="485.51" width="7.00" height="28.29" fill="#a3002b"/>
<line x1="78.50" y1="473.58" x2="78.50" y2="466.06" stroke="#454545" stroke-width="1.15"/>
<line x1="76.70" y1="466.06" x2="80.30" y2="466.06" stroke="#454545" stroke-width="1.15"/>
<rect x="75.00" y="473.58" width="7.00" height="40.22" fill="#a3002b"/>
<circle cx="78.50" cy="460.80" r="1.05" fill="#2a2a2a"/>
<line x1="94.50" y1="502.75" x2="94.50" y2="499.66" stroke="#454545" stroke-width="1.15"/>
<line x1="92.70" y1="499.66" x2="96.30" y2="499.66" stroke="#454545" stroke-width="1.15"/>
<rect x="91.30" y="503.05" width="6.40" height="10.75" fill="#2b4a82" stroke="#1f3b70" stroke-width="0.6"/>
<line x1="104.00" y1="489.49" x2="104.00" y2="485.95" stroke="#454545" stroke-width="1.15"/>
<line x1="102.20" y1="485.95" x2="105.80" y2="485.95" stroke="#454545" stroke-width="1.15"/>
<rect x="100.80" y="489.79" width="6.40" height="24.01" fill="#2b4a82" stroke="#1f3b70" stroke-width="0.6"/>
<line x1="113.50" y1="469.60" x2="113.50" y2="462.97" stroke="#454545" stroke-width="1.15"/>
<line x1="111.70" y1="462.97" x2="115.30" y2="462.97" stroke="#454545" stroke-width="1.15"/>
<rect x="110.30" y="469.90" width="6.40" height="43.90" fill="#2b4a82" stroke="#1f3b70" stroke-width="0.6"/>
<circle cx="113.50" cy="455.00" r="1.05" fill="#2a2a2a"/>
<text transform="translate(16.10,479.65) rotate(-90)" x="0" y="0" font-size="9.5" text-anchor="middle" fill="#1a1a1a" stroke="#1a1a1a" stroke-width="0.25" textLength="25.00" lengthAdjust="spacingAndGlyphs">Cofilin</text>
<text transform="translate(28.40,479.65) rotate(-90)" x="0" y="0" font-size="9.8" text-anchor="middle" fill="#1a1a1a" stroke="#1a1a1a" stroke-width="0.25" textLength="102.50" lengthAdjust="spacingAndGlyphs">(relative phosphorylation)</text>
<rect x="130.30" y="467.30" width="87.20" height="14.20" fill="#c8c8c8" rx="0.3"/>
<g filter="url(#bl)">
<rect x="134.20" y="472.60" width="9.70" height="3.00" rx="1.50" fill="#141414" fill-opacity="0.58"/>
<rect x="146.60" y="472.80" width="11.50" height="4.00" rx="2.00" fill="#141414" fill-opacity="0.63"/>
<rect x="159.80" y="473.00" width="12.10" height="5.00" rx="2.50" fill="#141414" fill-opacity="0.78"/>
<rect x="175.80" y="473.30" width="10.60" height="3.00" rx="1.50" fill="#141414" fill-opacity="0.58"/>
<rect x="189.00" y="472.85" width="11.20" height="3.50" rx="1.75" fill="#141414" fill-opacity="0.68"/>
<rect x="202.00" y="472.35" width="12.70" height="4.50" rx="2.25" fill="#141414" fill-opacity="0.78"/>
</g>
<rect x="131.55" y="468.55" width="84.70" height="11.70" fill="none" stroke="#fff" stroke-opacity="0.22" stroke-width="1"/>
<line x1="172.30" y1="468.30" x2="172.30" y2="480.50" stroke="#fff" stroke-width="1" stroke-opacity="0.22"/>
<line x1="174.70" y1="468.30" x2="174.70" y2="480.50" stroke="#fff" stroke-width="1" stroke-opacity="0.22"/>
<rect x="130.30" y="467.30" width="87.20" height="14.20" fill="none" stroke="#222222" stroke-width="1.45" rx="0.3"/>
<line x1="173.50" y1="467.30" x2="173.50" y2="481.50" stroke="#111" stroke-width="1.25"/>
<text x="221.40" y="478.07" font-size="8.3" text-anchor="start" fill="#1a1a1a" stroke="#1a1a1a" stroke-width="0.25" textLength="26.60" lengthAdjust="spacingAndGlyphs">P-cofilin</text>
<rect x="130.30" y="484.00" width="87.20" height="13.70" fill="#c6c6c6" rx="0.3"/>
<g filter="url(#bl)">
<rect x="133.00" y="488.70" width="10.00" height="3.00" rx="1.50" fill="#141414" fill-opacity="0.58"/>
<rect x="146.00" y="489.50" width="12.00" height="3.00" rx="1.50" fill="#141414" fill-opacity="0.53"/>
<rect x="161.00" y="490.50" width="11.00" height="3.00" rx="1.50" fill="#141414" fill-opacity="0.48"/>
<rect x="176.00" y="489.50" width="10.00" height="3.00" rx="1.50" fill="#141414" fill-opacity="0.63"/>
<rect x="189.00" y="490.20" width="11.00" height="3.00" rx="1.50" fill="#141414" fill-opacity="0.58"/>
<rect x="203.00" y="490.50" width="12.00" height="3.00" rx="1.50" fill="#141414" fill-opacity="0.63"/>
</g>
<rect x="131.55" y="485.25" width="84.70" height="11.20" fill="none" stroke="#fff" stroke-opacity="0.22" stroke-width="1"/>
<line x1="172.30" y1="485.00" x2="172.30" y2="496.70" stroke="#fff" stroke-width="1" stroke-opacity="0.22"/>
<line x1="174.70" y1="485.00" x2="174.70" y2="496.70" stroke="#fff" stroke-width="1" stroke-opacity="0.22"/>
<rect x="130.30" y="484.00" width="87.20" height="13.70" fill="none" stroke="#222222" stroke-width="1.45" rx="0.3"/>
<line x1="173.50" y1="484.00" x2="173.50" y2="497.70" stroke="#111" stroke-width="1.25"/>
<text x="221.40" y="493.97" font-size="8.3" text-anchor="start" fill="#1a1a1a" stroke="#1a1a1a" stroke-width="0.25" textLength="23.00" lengthAdjust="spacingAndGlyphs">&#946;-actin</text>
<rect x="130.30" y="500.20" width="87.20" height="14.50" fill="#c6c6c6" rx="0.3"/>
<g filter="url(#bl)">
<rect x="133.00" y="505.50" width="11.00" height="3.00" rx="1.50" fill="#141414" fill-opacity="0.63"/>
<rect x="146.00" y="505.50" width="12.00" height="3.00" rx="1.50" fill="#141414" fill-opacity="0.58"/>
<rect x="160.00" y="506.00" width="12.00" height="3.00" rx="1.50" fill="#141414" fill-opacity="0.53"/>
<rect x="175.00" y="505.50" width="12.00" height="3.00" rx="1.50" fill="#141414" fill-opacity="0.68"/>
<rect x="189.00" y="505.00" width="11.00" height="3.00" rx="1.50" fill="#141414" fill-opacity="0.53"/>
<rect x="203.00" y="505.50" width="11.00" height="2.00" rx="1.00" fill="#141414" fill-opacity="0.34"/>
</g>
<rect x="131.55" y="501.45" width="84.70" height="12.00" fill="none" stroke="#fff" stroke-opacity="0.22" stroke-width="1"/>
<line x1="172.30" y1="501.20" x2="172.30" y2="513.70" stroke="#fff" stroke-width="1" stroke-opacity="0.22"/>
<line x1="174.70" y1="501.20" x2="174.70" y2="513.70" stroke="#fff" stroke-width="1" stroke-opacity="0.22"/>
<rect x="130.30" y="500.20" width="87.20" height="14.50" fill="none" stroke="#222222" stroke-width="1.45" rx="0.3"/>
<line x1="173.50" y1="500.20" x2="173.50" y2="514.70" stroke="#111" stroke-width="1.25"/>
<text x="221.40" y="509.67" font-size="8.3" text-anchor="start" fill="#1a1a1a" stroke="#1a1a1a" stroke-width="0.25" textLength="20.90" lengthAdjust="spacingAndGlyphs">Cofilin</text>
<line x1="53.20" y1="543.70" x2="53.20" y2="613.60" stroke="#2a2a2a" stroke-width="1.25"/>
<line x1="52.60" y1="613.50" x2="120.50" y2="613.50" stroke="#141414" stroke-width="1.0"/>
<line x1="50.20" y1="613.00" x2="53.20" y2="613.00" stroke="#2a2a2a" stroke-width="1"/>
<text x="47.20" y="615.68" font-size="7.5" text-anchor="end" fill="#1a1a1a" stroke="#1a1a1a" stroke-width="0.25" textLength="3.90" lengthAdjust="spacingAndGlyphs">0</text>
<line x1="50.20" y1="590.77" x2="53.20" y2="590.77" stroke="#2a2a2a" stroke-width="1"/>
<text x="47.20" y="593.45" font-size="7.5" text-anchor="end" fill="#1a1a1a" stroke="#1a1a1a" stroke-width="0.25" textLength="7.90" lengthAdjust="spacingAndGlyphs">50</text>
<line x1="50.20" y1="568.53" x2="53.20" y2="568.53" stroke="#2a2a2a" stroke-width="1"/>
<text x="47.20" y="571.22" font-size="7.5" text-anchor="end" fill="#1a1a1a" stroke="#1a1a1a" stroke-width="0.25" textLength="11.80" lengthAdjust="spacingAndGlyphs">100</text>
<line x1="50.20" y1="546.30" x2="53.20" y2="546.30" stroke="#2a2a2a" stroke-width="1"/>
<text x="47.20" y="548.98" font-size="7.5" text-anchor="end" fill="#1a1a1a" stroke="#1a1a1a" stroke-width="0.25" textLength="11.80" lengthAdjust="spacingAndGlyphs">150</text>
<line x1="60.30" y1="612.11" x2="60.30" y2="611.44" stroke="#454545" stroke-width="1.15"/>
<line x1="58.50" y1="611.44" x2="62.10" y2="611.44" stroke="#454545" stroke-width="1.15"/>
<rect x="56.80" y="612.11" width="7.00" height="0.89" fill="#a3002b"/>
<line x1="69.70" y1="568.53" x2="69.70" y2="552.97" stroke="#454545" stroke-width="1.15"/>
<line x1="67.90" y1="552.97" x2="71.50" y2="552.97" stroke="#454545" stroke-width="1.15"/>
<rect x="66.20" y="568.53" width="7.00" height="44.47" fill="#a3002b"/>
<circle cx="69.70" cy="548.00" r="1.05" fill="#2a2a2a"/>
<line x1="79.30" y1="595.66" x2="79.30" y2="588.10" stroke="#454545" stroke-width="1.15"/>
<line x1="77.50" y1="588.10" x2="81.10" y2="588.10" stroke="#454545" stroke-width="1.15"/>
<rect x="75.80" y="595.66" width="7.00" height="17.34" fill="#a3002b"/>
<circle cx="79.30" cy="583.80" r="1.05" fill="#2a2a2a"/>
<line x1="95.50" y1="611.67" x2="95.50" y2="610.33" stroke="#454545" stroke-width="1.15"/>
<line x1="93.70" y1="610.33" x2="97.30" y2="610.33" stroke="#454545" stroke-width="1.15"/>
<rect x="92.30" y="611.97" width="6.40" height="1.03" fill="#2b4a82" stroke="#1f3b70" stroke-width="0.6"/>
<line x1="104.70" y1="575.65" x2="104.70" y2="570.31" stroke="#454545" stroke-width="1.15"/>
<line x1="102.90" y1="570.31" x2="106.50" y2="570.31" stroke="#454545" stroke-width="1.15"/>
<rect x="101.50" y="575.95" width="6.40" height="37.05" fill="#2b4a82" stroke="#1f3b70" stroke-width="0.6"/>
<circle cx="104.70" cy="565.00" r="1.05" fill="#2a2a2a"/>
<line x1="114.50" y1="607.22" x2="114.50" y2="604.55" stroke="#454545" stroke-width="1.15"/>
<line x1="112.70" y1="604.55" x2="116.30" y2="604.55" stroke="#454545" stroke-width="1.15"/>
<rect x="111.30" y="607.52" width="6.40" height="5.48" fill="#2b4a82" stroke="#1f3b70" stroke-width="0.6"/>
<text transform="translate(16.10,578.65) rotate(-90)" x="0" y="0" font-size="9.5" text-anchor="middle" fill="#1a1a1a" stroke="#1a1a1a" stroke-width="0.25" textLength="20.00" lengthAdjust="spacingAndGlyphs">VASP</text>
<text transform="translate(28.40,578.65) rotate(-90)" x="0" y="0" font-size="9.8" text-anchor="middle" fill="#1a1a1a" stroke="#1a1a1a" stroke-width="0.25" textLength="102.50" lengthAdjust="spacingAndGlyphs">(relative phosphorylation)</text>
<rect x="130.30" y="567.20" width="87.20" height="13.80" fill="#c8c8c8" rx="0.3"/>
<g filter="url(#bl)">
<rect x="136.80" y="572.90" width="6.20" height="2.00" rx="1.00" fill="#141414" fill-opacity="0.19"/>
<rect x="146.80" y="571.40" width="12.40" height="4.80" rx="2.40" fill="#141414" fill-opacity="0.60"/>
<rect x="161.30" y="573.05" width="10.00" height="2.50" rx="1.25" fill="#141414" fill-opacity="0.34"/>
<rect x="176.70" y="573.50" width="9.30" height="2.00" rx="1.00" fill="#141414" fill-opacity="0.24"/>
<rect x="188.80" y="571.40" width="11.90" height="4.80" rx="2.40" fill="#141414" fill-opacity="0.66"/>
<rect x="203.20" y="573.05" width="10.60" height="2.50" rx="1.25" fill="#141414" fill-opacity="0.32"/>
</g>
<rect x="131.55" y="568.45" width="84.70" height="11.30" fill="none" stroke="#fff" stroke-opacity="0.22" stroke-width="1"/>
<line x1="172.30" y1="568.20" x2="172.30" y2="580.00" stroke="#fff" stroke-width="1" stroke-opacity="0.22"/>
<line x1="174.70" y1="568.20" x2="174.70" y2="580.00" stroke="#fff" stroke-width="1" stroke-opacity="0.22"/>
<rect x="130.30" y="567.20" width="87.20" height="13.80" fill="none" stroke="#222222" stroke-width="1.45" rx="0.3"/>
<line x1="173.50" y1="567.20" x2="173.50" y2="581.00" stroke="#111" stroke-width="1.25"/>
<text x="221.40" y="576.67" font-size="8.3" text-anchor="start" fill="#1a1a1a" stroke="#1a1a1a" stroke-width="0.25" textLength="23.30" lengthAdjust="spacingAndGlyphs">P-VASP</text>
<rect x="130.30" y="583.70" width="87.20" height="14.00" fill="#c6c6c6" rx="0.3"/>
<g filter="url(#bl)">
<rect x="131.00" y="588.15" width="15.00" height="3.50" rx="1.75" fill="#141414" fill-opacity="0.44"/>
<rect x="144.00" y="588.95" width="16.00" height="3.50" rx="1.75" fill="#141414" fill-opacity="0.44"/>
<rect x="158.00" y="589.75" width="14.00" height="3.50" rx="1.75" fill="#141414" fill-opacity="0.44"/>
<rect x="175.00" y="590.85" width="41.00" height="3.50" rx="1.75" fill="#141414" fill-opacity="0.39"/>
</g>
<rect x="131.55" y="584.95" width="84.70" height="11.50" fill="none" stroke="#fff" stroke-opacity="0.22" stroke-width="1"/>
<line x1="172.30" y1="584.70" x2="172.30" y2="596.70" stroke="#fff" stroke-width="1" stroke-opacity="0.22"/>
<line x1="174.70" y1="584.70" x2="174.70" y2="596.70" stroke="#fff" stroke-width="1" stroke-opacity="0.22"/>
<rect x="130.30" y="583.70" width="87.20" height="14.00" fill="none" stroke="#222222" stroke-width="1.45" rx="0.3"/>
<line x1="173.50" y1="583.70" x2="173.50" y2="597.70" stroke="#111" stroke-width="1.25"/>
<text x="221.40" y="592.97" font-size="8.3" text-anchor="start" fill="#1a1a1a" stroke="#1a1a1a" stroke-width="0.25" textLength="23.00" lengthAdjust="spacingAndGlyphs">&#946;-actin</text>
<rect x="130.30" y="599.60" width="87.20" height="14.20" fill="#c8c8c8" rx="0.3"/>
<g filter="url(#bl)">
<rect x="133.00" y="604.10" width="12.00" height="3.00" rx="1.50" fill="#141414" fill-opacity="0.44"/>
<rect x="147.00" y="605.10" width="13.00" height="3.00" rx="1.50" fill="#141414" fill-opacity="0.39"/>
<rect x="161.00" y="606.00" width="11.00" height="3.00" rx="1.50" fill="#141414" fill-opacity="0.37"/>
<rect x="175.00" y="607.45" width="12.00" height="2.50" rx="1.25" fill="#141414" fill-opacity="0.48"/>
<rect x="189.00" y="606.75" width="11.00" height="2.50" rx="1.25" fill="#141414" fill-opacity="0.37"/>
<rect x="203.00" y="606.45" width="12.00" height="2.50" rx="1.25" fill="#141414" fill-opacity="0.39"/>
</g>
<rect x="131.55" y="600.85" width="84.70" height="11.70" fill="none" stroke="#fff" stroke-opacity="0.22" stroke-width="1"/>
<line x1="172.30" y1="600.60" x2="172.30" y2="612.80" stroke="#fff" stroke-width="1" stroke-opacity="0.22"/>
<line x1="174.70" y1="600.60" x2="174.70" y2="612.80" stroke="#fff" stroke-width="1" stroke-opacity="0.22"/>
<rect x="130.30" y="599.60" width="87.20" height="14.20" fill="none" stroke="#222222" stroke-width="1.45" rx="0.3"/>
<line x1="173.50" y1="599.60" x2="173.50" y2="613.80" stroke="#111" stroke-width="1.25"/>
<text x="221.40" y="608.67" font-size="8.3" text-anchor="start" fill="#1a1a1a" stroke="#1a1a1a" stroke-width="0.25" textLength="16.90" lengthAdjust="spacingAndGlyphs">VASP</text>
<line x1="309.20" y1="245.40" x2="309.20" y2="315.60" stroke="#2a2a2a" stroke-width="1.25"/>
<line x1="308.60" y1="315.50" x2="376.30" y2="315.50" stroke="#141414" stroke-width="1.0"/>
<line x1="306.20" y1="315.00" x2="309.20" y2="315.00" stroke="#2a2a2a" stroke-width="1"/>
<text x="303.20" y="317.69" font-size="7.5" text-anchor="end" fill="#1a1a1a" stroke="#1a1a1a" stroke-width="0.25" textLength="3.90" lengthAdjust="spacingAndGlyphs">0</text>
<line x1="306.20" y1="292.67" x2="309.20" y2="292.67" stroke="#2a2a2a" stroke-width="1"/>
<text x="303.20" y="295.35" font-size="7.5" text-anchor="end" fill="#1a1a1a" stroke="#1a1a1a" stroke-width="0.25" textLength="7.90" lengthAdjust="spacingAndGlyphs">50</text>
<line x1="306.20" y1="270.33" x2="309.20" y2="270.33" stroke="#2a2a2a" stroke-width="1"/>
<text x="303.20" y="273.02" font-size="7.5" text-anchor="end" fill="#1a1a1a" stroke="#1a1a1a" stroke-width="0.25" textLength="11.80" lengthAdjust="spacingAndGlyphs">100</text>
<line x1="306.20" y1="248.00" x2="309.20" y2="248.00" stroke="#2a2a2a" stroke-width="1"/>
<text x="303.20" y="250.69" font-size="7.5" text-anchor="end" fill="#1a1a1a" stroke="#1a1a1a" stroke-width="0.25" textLength="11.80" lengthAdjust="spacingAndGlyphs">150</text>
<line x1="315.30" y1="306.51" x2="315.30" y2="302.05" stroke="#454545" stroke-width="1.15"/>
<line x1="313.50" y1="302.05" x2="317.10" y2="302.05" stroke="#454545" stroke-width="1.15"/>
<rect x="311.80" y="306.51" width="7.00" height="8.49" fill="#a3002b"/>
<line x1="325.00" y1="294.01" x2="325.00" y2="289.09" stroke="#454545" stroke-width="1.15"/>
<line x1="323.20" y1="289.09" x2="326.80" y2="289.09" stroke="#454545" stroke-width="1.15"/>
<rect x="321.50" y="294.01" width="7.00" height="20.99" fill="#a3002b"/>
<circle cx="325.00" cy="283.80" r="1.05" fill="#2a2a2a"/>
<line x1="334.70" y1="286.86" x2="334.70" y2="282.84" stroke="#454545" stroke-width="1.15"/>
<line x1="332.90" y1="282.84" x2="336.50" y2="282.84" stroke="#454545" stroke-width="1.15"/>
<rect x="331.20" y="286.86" width="7.00" height="28.14" fill="#a3002b"/>
<circle cx="334.70" cy="276.80" r="1.05" fill="#2a2a2a"/>
<line x1="351.50" y1="314.55" x2="351.50" y2="314.11" stroke="#454545" stroke-width="1.15"/>
<line x1="349.70" y1="314.11" x2="353.30" y2="314.11" stroke="#454545" stroke-width="1.15"/>
<rect x="348.30" y="314.85" width="6.40" height="0.15" fill="#2b4a82" stroke="#1f3b70" stroke-width="0.6"/>
<line x1="360.30" y1="286.41" x2="360.30" y2="277.93" stroke="#454545" stroke-width="1.15"/>
<line x1="358.50" y1="277.93" x2="362.10" y2="277.93" stroke="#454545" stroke-width="1.15"/>
<rect x="357.10" y="286.71" width="6.40" height="28.29" fill="#2b4a82" stroke="#1f3b70" stroke-width="0.6"/>
<circle cx="360.30" cy="272.50" r="1.05" fill="#2a2a2a"/>
<line x1="369.70" y1="271.23" x2="369.70" y2="264.53" stroke="#454545" stroke-width="1.15"/>
<line x1="367.90" y1="264.53" x2="371.50" y2="264.53" stroke="#454545" stroke-width="1.15"/>
<rect x="366.50" y="271.53" width="6.40" height="43.47" fill="#2b4a82" stroke="#1f3b70" stroke-width="0.6"/>
<circle cx="369.70" cy="258.80" r="1.05" fill="#2a2a2a"/>
<text transform="translate(271.70,280.50) rotate(-90)" x="0" y="0" font-size="9.5" text-anchor="middle" fill="#1a1a1a" stroke="#1a1a1a" stroke-width="0.25" textLength="23.50" lengthAdjust="spacingAndGlyphs">AMPK</text>
<text transform="translate(283.80,280.50) rotate(-90)" x="0" y="0" font-size="9.8" text-anchor="middle" fill="#1a1a1a" stroke="#1a1a1a" stroke-width="0.25" textLength="102.50" lengthAdjust="spacingAndGlyphs">(relative phosphorylation)</text>
<rect x="386.50" y="268.40" width="88.80" height="14.00" fill="#c6c6c6" rx="0.3"/>
<g filter="url(#bl)">
<rect x="392.80" y="272.00" width="8.90" height="2.00" rx="1.00" fill="#141414" fill-opacity="0.24"/>
<rect x="405.60" y="273.15" width="9.90" height="2.50" rx="1.25" fill="#141414" fill-opacity="0.44"/>
<rect x="418.50" y="273.80" width="10.60" height="3.00" rx="1.50" fill="#141414" fill-opacity="0.68"/>
<rect x="446.80" y="275.65" width="10.60" height="3.50" rx="1.75" fill="#141414" fill-opacity="0.78"/>
<rect x="461.00" y="275.25" width="11.10" height="4.50" rx="2.25" fill="#141414" fill-opacity="0.87"/>
</g>
<rect x="387.75" y="269.65" width="86.30" height="11.50" fill="none" stroke="#fff" stroke-opacity="0.22" stroke-width="1"/>
<line x1="429.40" y1="269.40" x2="429.40" y2="281.40" stroke="#fff" stroke-width="1" stroke-opacity="0.22"/>
<line x1="431.80" y1="269.40" x2="431.80" y2="281.40" stroke="#fff" stroke-width="1" stroke-opacity="0.22"/>
<rect x="386.50" y="268.40" width="88.80" height="14.00" fill="none" stroke="#222222" stroke-width="1.45" rx="0.3"/>
<line x1="430.60" y1="268.40" x2="430.60" y2="282.40" stroke="#111" stroke-width="1.25"/>
<text x="479.60" y="279.07" font-size="8.3" text-anchor="start" fill="#1a1a1a" stroke="#1a1a1a" stroke-width="0.25" textLength="26.00" lengthAdjust="spacingAndGlyphs">P-AMPK</text>
<rect x="386.50" y="284.50" width="88.80" height="14.20" fill="#cbcbcb" rx="0.3"/>
<g filter="url(#bl)">
<rect x="388.00" y="290.00" width="14.00" height="3.00" rx="1.50" fill="#141414" fill-opacity="0.19"/>
<rect x="402.00" y="290.00" width="14.00" height="3.00" rx="1.50" fill="#141414" fill-opacity="0.19"/>
<rect x="416.00" y="290.00" width="14.00" height="3.00" rx="1.50" fill="#141414" fill-opacity="0.19"/>
<rect x="433.00" y="290.00" width="13.00" height="3.00" rx="1.50" fill="#141414" fill-opacity="0.17"/>
<rect x="446.00" y="290.00" width="14.00" height="3.00" rx="1.50" fill="#141414" fill-opacity="0.19"/>
<rect x="460.00" y="290.00" width="14.00" height="3.00" rx="1.50" fill="#141414" fill-opacity="0.19"/>
</g>
<rect x="387.75" y="285.75" width="86.30" height="11.70" fill="none" stroke="#fff" stroke-opacity="0.22" stroke-width="1"/>
<line x1="429.40" y1="285.50" x2="429.40" y2="297.70" stroke="#fff" stroke-width="1" stroke-opacity="0.22"/>
<line x1="431.80" y1="285.50" x2="431.80" y2="297.70" stroke="#fff" stroke-width="1" stroke-opacity="0.22"/>
<rect x="386.50" y="284.50" width="88.80" height="14.20" fill="none" stroke="#222222" stroke-width="1.45" rx="0.3"/>
<line x1="430.60" y1="284.50" x2="430.60" y2="298.70" stroke="#111" stroke-width="1.25"/>
<text x="479.60" y="295.07" font-size="8.3" text-anchor="start" fill="#1a1a1a" stroke="#1a1a1a" stroke-width="0.25" textLength="26.20" lengthAdjust="spacingAndGlyphs">Gelsolin</text>
<rect x="386.50" y="301.60" width="88.80" height="13.50" fill="#c6c6c6" rx="0.3"/>
<g filter="url(#bl)">
<rect x="387.00" y="307.05" width="12.00" height="2.50" rx="1.25" fill="#141414" fill-opacity="0.58"/>
<rect x="402.00" y="307.25" width="11.00" height="2.50" rx="1.25" fill="#141414" fill-opacity="0.44"/>
<rect x="417.00" y="306.80" width="12.00" height="3.00" rx="1.50" fill="#141414" fill-opacity="0.68"/>
<rect x="433.00" y="306.55" width="12.00" height="2.50" rx="1.25" fill="#141414" fill-opacity="0.58"/>
<rect x="447.00" y="306.05" width="12.00" height="2.50" rx="1.25" fill="#141414" fill-opacity="0.53"/>
<rect x="461.00" y="305.30" width="12.00" height="3.00" rx="1.50" fill="#141414" fill-opacity="0.63"/>
</g>
<rect x="387.75" y="302.85" width="86.30" height="11.00" fill="none" stroke="#fff" stroke-opacity="0.22" stroke-width="1"/>
<line x1="429.40" y1="302.60" x2="429.40" y2="314.10" stroke="#fff" stroke-width="1" stroke-opacity="0.22"/>
<line x1="431.80" y1="302.60" x2="431.80" y2="314.10" stroke="#fff" stroke-width="1" stroke-opacity="0.22"/>
<rect x="386.50" y="301.60" width="88.80" height="13.50" fill="none" stroke="#222222" stroke-width="1.45" rx="0.3"/>
<line x1="430.60" y1="301.60" x2="430.60" y2="315.10" stroke="#111" stroke-width="1.25"/>
<text x="479.60" y="312.87" font-size="8.3" text-anchor="start" fill="#1a1a1a" stroke="#1a1a1a" stroke-width="0.25" textLength="19.40" lengthAdjust="spacingAndGlyphs">AMPK</text>
<line x1="309.20" y1="345.40" x2="309.20" y2="415.10" stroke="#2a2a2a" stroke-width="1.25"/>
<line x1="308.60" y1="414.50" x2="376.30" y2="414.50" stroke="#141414" stroke-width="1.0"/>
<line x1="306.20" y1="414.50" x2="309.20" y2="414.50" stroke="#2a2a2a" stroke-width="1"/>
<text x="303.20" y="417.19" font-size="7.5" text-anchor="end" fill="#1a1a1a" stroke="#1a1a1a" stroke-width="0.25" textLength="3.90" lengthAdjust="spacingAndGlyphs">0</text>
<line x1="306.20" y1="392.33" x2="309.20" y2="392.33" stroke="#2a2a2a" stroke-width="1"/>
<text x="303.20" y="395.02" font-size="7.5" text-anchor="end" fill="#1a1a1a" stroke="#1a1a1a" stroke-width="0.25" textLength="7.90" lengthAdjust="spacingAndGlyphs">50</text>
<line x1="306.20" y1="370.17" x2="309.20" y2="370.17" stroke="#2a2a2a" stroke-width="1"/>
<text x="303.20" y="372.85" font-size="7.5" text-anchor="end" fill="#1a1a1a" stroke="#1a1a1a" stroke-width="0.25" textLength="11.80" lengthAdjust="spacingAndGlyphs">100</text>
<line x1="306.20" y1="348.00" x2="309.20" y2="348.00" stroke="#2a2a2a" stroke-width="1"/>
<text x="303.20" y="350.69" font-size="7.5" text-anchor="end" fill="#1a1a1a" stroke="#1a1a1a" stroke-width="0.25" textLength="11.80" lengthAdjust="spacingAndGlyphs">150</text>
<line x1="316.00" y1="401.20" x2="316.00" y2="396.77" stroke="#454545" stroke-width="1.15"/>
<line x1="314.20" y1="396.77" x2="317.80" y2="396.77" stroke="#454545" stroke-width="1.15"/>
<rect x="312.50" y="401.20" width="7.00" height="13.30" fill="#a3002b"/>
<line x1="325.50" y1="377.26" x2="325.50" y2="374.16" stroke="#454545" stroke-width="1.15"/>
<line x1="323.70" y1="374.16" x2="327.30" y2="374.16" stroke="#454545" stroke-width="1.15"/>
<rect x="322.00" y="377.26" width="7.00" height="37.24" fill="#a3002b"/>
<circle cx="325.50" cy="366.80" r="1.05" fill="#2a2a2a"/>
<line x1="335.30" y1="382.58" x2="335.30" y2="378.59" stroke="#454545" stroke-width="1.15"/>
<line x1="333.50" y1="378.59" x2="337.10" y2="378.59" stroke="#454545" stroke-width="1.15"/>
<rect x="331.80" y="382.58" width="7.00" height="31.92" fill="#a3002b"/>
<circle cx="335.30" cy="372.00" r="1.05" fill="#2a2a2a"/>
<line x1="350.50" y1="398.98" x2="350.50" y2="391.00" stroke="#454545" stroke-width="1.15"/>
<line x1="348.70" y1="391.00" x2="352.30" y2="391.00" stroke="#454545" stroke-width="1.15"/>
<rect x="347.30" y="399.28" width="6.40" height="15.22" fill="#2b4a82" stroke="#1f3b70" stroke-width="0.6"/>
<line x1="360.30" y1="386.13" x2="360.30" y2="379.48" stroke="#454545" stroke-width="1.15"/>
<line x1="358.50" y1="379.48" x2="362.10" y2="379.48" stroke="#454545" stroke-width="1.15"/>
<rect x="357.10" y="386.43" width="6.40" height="28.07" fill="#2b4a82" stroke="#1f3b70" stroke-width="0.6"/>
<line x1="369.70" y1="370.17" x2="369.70" y2="361.30" stroke="#454545" stroke-width="1.15"/>
<line x1="367.90" y1="361.30" x2="371.50" y2="361.30" stroke="#454545" stroke-width="1.15"/>
<rect x="366.50" y="370.47" width="6.40" height="44.03" fill="#2b4a82" stroke="#1f3b70" stroke-width="0.6"/>
<circle cx="369.70" cy="355.00" r="1.05" fill="#2a2a2a"/>
<text transform="translate(271.70,380.25) rotate(-90)" x="0" y="0" font-size="9.5" text-anchor="middle" fill="#1a1a1a" stroke="#1a1a1a" stroke-width="0.25" textLength="17.00" lengthAdjust="spacingAndGlyphs">MLC</text>
<text transform="translate(283.80,380.25) rotate(-90)" x="0" y="0" font-size="9.8" text-anchor="middle" fill="#1a1a1a" stroke="#1a1a1a" stroke-width="0.25" textLength="102.50" lengthAdjust="spacingAndGlyphs">(relative phosphorylation)</text>
<rect x="386.50" y="368.30" width="44.10" height="14.60" fill="#c0c0c0"/>
<rect x="430.60" y="368.30" width="44.70" height="14.60" fill="#b2b2b2"/>
<g filter="url(#bl)">
<rect x="389.30" y="374.05" width="10.60" height="2.50" rx="1.25" fill="#141414" fill-opacity="0.44"/>
<rect x="403.50" y="374.10" width="11.50" height="3.00" rx="1.50" fill="#141414" fill-opacity="0.53"/>
<rect x="417.60" y="374.50" width="11.50" height="3.00" rx="1.50" fill="#141414" fill-opacity="0.48"/>
<rect x="433.00" y="375.00" width="12.00" height="2.00" rx="1.00" fill="#141414" fill-opacity="0.10"/>
<rect x="445.90" y="373.75" width="10.60" height="4.50" rx="2.25" fill="#141414" fill-opacity="0.48"/>
<rect x="458.30" y="372.40" width="13.30" height="5.00" rx="2.50" fill="#141414" fill-opacity="0.53"/>
</g>
<rect x="387.75" y="369.55" width="86.30" height="12.10" fill="none" stroke="#fff" stroke-opacity="0.22" stroke-width="1"/>
<line x1="429.40" y1="369.30" x2="429.40" y2="381.90" stroke="#fff" stroke-width="1" stroke-opacity="0.22"/>
<line x1="431.80" y1="369.30" x2="431.80" y2="381.90" stroke="#fff" stroke-width="1" stroke-opacity="0.22"/>
<rect x="386.50" y="368.30" width="88.80" height="14.60" fill="none" stroke="#222222" stroke-width="1.45" rx="0.3"/>
<line x1="430.60" y1="368.30" x2="430.60" y2="382.90" stroke="#111" stroke-width="1.25"/>
<text x="479.60" y="379.97" font-size="8.3" text-anchor="start" fill="#1a1a1a" stroke="#1a1a1a" stroke-width="0.25" textLength="20.60" lengthAdjust="spacingAndGlyphs">P-MLC</text>
<rect x="386.50" y="384.40" width="88.80" height="15.00" fill="#cecece" rx="0.3"/>
<g filter="url(#bl)">
<rect x="388.00" y="390.25" width="12.00" height="2.50" rx="1.25" fill="#141414" fill-opacity="0.73"/>
<rect x="403.00" y="390.35" width="12.00" height="2.50" rx="1.25" fill="#141414" fill-opacity="0.68"/>
<rect x="417.00" y="390.45" width="12.00" height="2.50" rx="1.25" fill="#141414" fill-opacity="0.68"/>
<rect x="433.00" y="391.15" width="11.00" height="2.50" rx="1.25" fill="#141414" fill-opacity="0.73"/>
<rect x="447.00" y="390.90" width="12.00" height="3.00" rx="1.50" fill="#141414" fill-opacity="0.78"/>
<rect x="461.00" y="390.90" width="12.00" height="3.00" rx="1.50" fill="#141414" fill-opacity="0.78"/>
</g>
<rect x="387.75" y="385.65" width="86.30" height="12.50" fill="none" stroke="#fff" stroke-opacity="0.22" stroke-width="1"/>
<line x1="429.40" y1="385.40" x2="429.40" y2="398.40" stroke="#fff" stroke-width="1" stroke-opacity="0.22"/>
<line x1="431.80" y1="385.40" x2="431.80" y2="398.40" stroke="#fff" stroke-width="1" stroke-opacity="0.22"/>
<rect x="386.50" y="384.40" width="88.80" height="15.00" fill="none" stroke="#222222" stroke-width="1.45" rx="0.3"/>
<line x1="430.60" y1="384.40" x2="430.60" y2="399.40" stroke="#111" stroke-width="1.25"/>
<text x="479.60" y="396.17" font-size="8.3" text-anchor="start" fill="#1a1a1a" stroke="#1a1a1a" stroke-width="0.25" textLength="23.00" lengthAdjust="spacingAndGlyphs">&#946;-actin</text>
<rect x="386.50" y="401.20" width="88.80" height="14.50" fill="#c8c8c8" rx="0.3"/>
<g filter="url(#bl)">
<rect x="388.00" y="406.30" width="13.00" height="4.00" rx="2.00" fill="#141414" fill-opacity="0.24"/>
<rect x="402.00" y="406.30" width="13.00" height="4.00" rx="2.00" fill="#141414" fill-opacity="0.24"/>
<rect x="416.00" y="406.30" width="13.00" height="4.00" rx="2.00" fill="#141414" fill-opacity="0.24"/>
<rect x="433.00" y="406.60" width="13.00" height="4.00" rx="2.00" fill="#141414" fill-opacity="0.24"/>
<rect x="447.00" y="405.30" width="13.00" height="4.00" rx="2.00" fill="#141414" fill-opacity="0.24"/>
<rect x="461.00" y="403.50" width="13.00" height="4.00" rx="2.00" fill="#141414" fill-opacity="0.21"/>
</g>
<rect x="387.75" y="402.45" width="86.30" height="12.00" fill="none" stroke="#fff" stroke-opacity="0.22" stroke-width="1"/>
<line x1="429.40" y1="402.20" x2="429.40" y2="414.70" stroke="#fff" stroke-width="1" stroke-opacity="0.22"/>
<line x1="431.80" y1="402.20" x2="431.80" y2="414.70" stroke="#fff" stroke-width="1" stroke-opacity="0.22"/>
<rect x="386.50" y="401.20" width="88.80" height="14.50" fill="none" stroke="#222222" stroke-width="1.45" rx="0.3"/>
<line x1="430.60" y1="401.20" x2="430.60" y2="415.70" stroke="#111" stroke-width="1.25"/>
<text x="479.60" y="412.17" font-size="8.3" text-anchor="start" fill="#1a1a1a" stroke="#1a1a1a" stroke-width="0.25" textLength="13.90" lengthAdjust="spacingAndGlyphs">MLC</text>
<line x1="309.20" y1="444.20" x2="309.20" y2="514.10" stroke="#2a2a2a" stroke-width="1.25"/>
<line x1="308.60" y1="513.50" x2="376.30" y2="513.50" stroke="#141414" stroke-width="1.0"/>
<line x1="306.20" y1="513.50" x2="309.20" y2="513.50" stroke="#2a2a2a" stroke-width="1"/>
<text x="303.20" y="516.18" font-size="7.5" text-anchor="end" fill="#1a1a1a" stroke="#1a1a1a" stroke-width="0.25" textLength="3.90" lengthAdjust="spacingAndGlyphs">0</text>
<line x1="306.20" y1="491.27" x2="309.20" y2="491.27" stroke="#2a2a2a" stroke-width="1"/>
<text x="303.20" y="493.95" font-size="7.5" text-anchor="end" fill="#1a1a1a" stroke="#1a1a1a" stroke-width="0.25" textLength="7.90" lengthAdjust="spacingAndGlyphs">50</text>
<line x1="306.20" y1="469.03" x2="309.20" y2="469.03" stroke="#2a2a2a" stroke-width="1"/>
<text x="303.20" y="471.72" font-size="7.5" text-anchor="end" fill="#1a1a1a" stroke="#1a1a1a" stroke-width="0.25" textLength="11.80" lengthAdjust="spacingAndGlyphs">100</text>
<line x1="306.20" y1="446.80" x2="309.20" y2="446.80" stroke="#2a2a2a" stroke-width="1"/>
<text x="303.20" y="449.49" font-size="7.5" text-anchor="end" fill="#1a1a1a" stroke="#1a1a1a" stroke-width="0.25" textLength="11.80" lengthAdjust="spacingAndGlyphs">150</text>
<line x1="316.00" y1="493.49" x2="316.00" y2="491.71" stroke="#454545" stroke-width="1.15"/>
<line x1="314.20" y1="491.71" x2="317.80" y2="491.71" stroke="#454545" stroke-width="1.15"/>
<rect x="312.50" y="493.49" width="7.00" height="20.01" fill="#a3002b"/>
<line x1="325.50" y1="488.15" x2="325.50" y2="483.26" stroke="#454545" stroke-width="1.15"/>
<line x1="323.70" y1="483.26" x2="327.30" y2="483.26" stroke="#454545" stroke-width="1.15"/>
<rect x="322.00" y="488.15" width="7.00" height="25.35" fill="#a3002b"/>
<line x1="335.30" y1="477.48" x2="335.30" y2="474.37" stroke="#454545" stroke-width="1.15"/>
<line x1="333.50" y1="474.37" x2="337.10" y2="474.37" stroke="#454545" stroke-width="1.15"/>
<rect x="331.80" y="477.48" width="7.00" height="36.02" fill="#a3002b"/>
<circle cx="335.30" cy="468.00" r="1.05" fill="#2a2a2a"/>
<line x1="350.50" y1="490.82" x2="350.50" y2="489.04" stroke="#454545" stroke-width="1.15"/>
<line x1="348.70" y1="489.04" x2="352.30" y2="489.04" stroke="#454545" stroke-width="1.15"/>
<rect x="347.30" y="491.12" width="6.40" height="22.38" fill="#2b4a82" stroke="#1f3b70" stroke-width="0.6"/>
<line x1="360.30" y1="474.37" x2="360.30" y2="470.37" stroke="#454545" stroke-width="1.15"/>
<line x1="358.50" y1="470.37" x2="362.10" y2="470.37" stroke="#454545" stroke-width="1.15"/>
<rect x="357.10" y="474.67" width="6.40" height="38.83" fill="#2b4a82" stroke="#1f3b70" stroke-width="0.6"/>
<line x1="369.70" y1="469.03" x2="369.70" y2="462.36" stroke="#454545" stroke-width="1.15"/>
<line x1="367.90" y1="462.36" x2="371.50" y2="462.36" stroke="#454545" stroke-width="1.15"/>
<rect x="366.50" y="469.33" width="6.40" height="44.17" fill="#2b4a82" stroke="#1f3b70" stroke-width="0.6"/>
<circle cx="369.70" cy="457.00" r="1.05" fill="#2a2a2a"/>
<text transform="translate(271.70,479.15) rotate(-90)" x="0" y="0" font-size="9.5" text-anchor="middle" fill="#1a1a1a" stroke="#1a1a1a" stroke-width="0.25" textLength="25.00" lengthAdjust="spacingAndGlyphs">Cofilin</text>
<text transform="translate(283.80,479.15) rotate(-90)" x="0" y="0" font-size="9.8" text-anchor="middle" fill="#1a1a1a" stroke="#1a1a1a" stroke-width="0.25" textLength="102.50" lengthAdjust="spacingAndGlyphs">(relative phosphorylation)</text>
<rect x="386.50" y="467.30" width="88.80" height="14.20" fill="#c8c8c8" rx="0.3"/>
<g filter="url(#bl)">
<rect x="388.40" y="471.50" width="9.80" height="2.00" rx="1.00" fill="#141414" fill-opacity="0.39"/>
<rect x="402.60" y="472.60" width="10.60" height="2.00" rx="1.00" fill="#141414" fill-opacity="0.34"/>
<rect x="416.70" y="472.35" width="12.40" height="3.50" rx="1.75" fill="#141414" fill-opacity="0.68"/>
<rect x="433.20" y="474.90" width="10.10" height="2.00" rx="1.00" fill="#141414" fill-opacity="0.34"/>
<rect x="446.80" y="474.80" width="11.50" height="3.00" rx="1.50" fill="#141414" fill-opacity="0.63"/>
<rect x="461.00" y="474.95" width="11.50" height="3.50" rx="1.75" fill="#141414" fill-opacity="0.73"/>
</g>
<rect x="387.75" y="468.55" width="86.30" height="11.70" fill="none" stroke="#fff" stroke-opacity="0.22" stroke-width="1"/>
<line x1="429.40" y1="468.30" x2="429.40" y2="480.50" stroke="#fff" stroke-width="1" stroke-opacity="0.22"/>
<line x1="431.80" y1="468.30" x2="431.80" y2="480.50" stroke="#fff" stroke-width="1" stroke-opacity="0.22"/>
<rect x="386.50" y="467.30" width="88.80" height="14.20" fill="none" stroke="#222222" stroke-width="1.45" rx="0.3"/>
<line x1="430.60" y1="467.30" x2="430.60" y2="481.50" stroke="#111" stroke-width="1.25"/>
<text x="479.60" y="478.97" font-size="8.3" text-anchor="start" fill="#1a1a1a" stroke="#1a1a1a" stroke-width="0.25" textLength="26.60" lengthAdjust="spacingAndGlyphs">P-cofilin</text>
<rect x="386.50" y="483.80" width="88.80" height="13.90" fill="#c8c8c8" rx="0.3"/>
<g filter="url(#bl)">
<rect x="388.00" y="489.65" width="12.00" height="2.50" rx="1.25" fill="#141414" fill-opacity="0.58"/>
<rect x="403.00" y="489.95" width="12.00" height="2.50" rx="1.25" fill="#141414" fill-opacity="0.53"/>
<rect x="417.00" y="490.15" width="12.00" height="2.50" rx="1.25" fill="#141414" fill-opacity="0.58"/>
<rect x="432.00" y="490.80" width="14.00" height="3.00" rx="1.50" fill="#141414" fill-opacity="0.73"/>
<rect x="447.00" y="490.95" width="12.00" height="2.50" rx="1.25" fill="#141414" fill-opacity="0.58"/>
<rect x="461.00" y="490.75" width="12.00" height="2.50" rx="1.25" fill="#141414" fill-opacity="0.53"/>
</g>
<rect x="387.75" y="485.05" width="86.30" height="11.40" fill="none" stroke="#fff" stroke-opacity="0.22" stroke-width="1"/>
<line x1="429.40" y1="484.80" x2="429.40" y2="496.70" stroke="#fff" stroke-width="1" stroke-opacity="0.22"/>
<line x1="431.80" y1="484.80" x2="431.80" y2="496.70" stroke="#fff" stroke-width="1" stroke-opacity="0.22"/>
<rect x="386.50" y="483.80" width="88.80" height="13.90" fill="none" stroke="#222222" stroke-width="1.45" rx="0.3"/>
<line x1="430.60" y1="483.80" x2="430.60" y2="497.70" stroke="#111" stroke-width="1.25"/>
<text x="479.60" y="495.37" font-size="8.3" text-anchor="start" fill="#1a1a1a" stroke="#1a1a1a" stroke-width="0.25" textLength="23.00" lengthAdjust="spacingAndGlyphs">&#946;-actin</text>
<rect x="386.50" y="500.20" width="88.80" height="14.50" fill="#c8c8c8" rx="0.3"/>
<g filter="url(#bl)">
<rect x="386.50" y="504.60" width="13.50" height="3.00" rx="1.50" fill="#141414" fill-opacity="0.63"/>
<rect x="401.00" y="505.30" width="15.00" height="3.00" rx="1.50" fill="#141414" fill-opacity="0.63"/>
<rect x="416.00" y="506.00" width="14.00" height="3.00" rx="1.50" fill="#141414" fill-opacity="0.68"/>
<rect x="433.00" y="506.95" width="13.00" height="2.50" rx="1.25" fill="#141414" fill-opacity="0.58"/>
<rect x="447.00" y="507.50" width="13.00" height="3.00" rx="1.50" fill="#141414" fill-opacity="0.63"/>
<rect x="461.00" y="508.50" width="13.00" height="3.00" rx="1.50" fill="#141414" fill-opacity="0.68"/>
</g>
<rect x="387.75" y="501.45" width="86.30" height="12.00" fill="none" stroke="#fff" stroke-opacity="0.22" stroke-width="1"/>
<line x1="429.40" y1="501.20" x2="429.40" y2="513.70" stroke="#fff" stroke-width="1" stroke-opacity="0.22"/>
<line x1="431.80" y1="501.20" x2="431.80" y2="513.70" stroke="#fff" stroke-width="1" stroke-opacity="0.22"/>
<rect x="386.50" y="500.20" width="88.80" height="14.50" fill="none" stroke="#222222" stroke-width="1.45" rx="0.3"/>
<line x1="430.60" y1="500.20" x2="430.60" y2="514.70" stroke="#111" stroke-width="1.25"/>
<text x="479.60" y="510.97" font-size="8.3" text-anchor="start" fill="#1a1a1a" stroke="#1a1a1a" stroke-width="0.25" textLength="20.90" lengthAdjust="spacingAndGlyphs">Cofilin</text>
<line x1="309.20" y1="543.70" x2="309.20" y2="613.60" stroke="#2a2a2a" stroke-width="1.25"/>
<line x1="308.60" y1="613.50" x2="376.30" y2="613.50" stroke="#141414" stroke-width="1.0"/>
<line x1="306.20" y1="613.00" x2="309.20" y2="613.00" stroke="#2a2a2a" stroke-width="1"/>
<text x="303.20" y="615.68" font-size="7.5" text-anchor="end" fill="#1a1a1a" stroke="#1a1a1a" stroke-width="0.25" textLength="3.90" lengthAdjust="spacingAndGlyphs">0</text>
<line x1="306.20" y1="590.77" x2="309.20" y2="590.77" stroke="#2a2a2a" stroke-width="1"/>
<text x="303.20" y="593.45" font-size="7.5" text-anchor="end" fill="#1a1a1a" stroke="#1a1a1a" stroke-width="0.25" textLength="7.90" lengthAdjust="spacingAndGlyphs">50</text>
<line x1="306.20" y1="568.53" x2="309.20" y2="568.53" stroke="#2a2a2a" stroke-width="1"/>
<text x="303.20" y="571.22" font-size="7.5" text-anchor="end" fill="#1a1a1a" stroke="#1a1a1a" stroke-width="0.25" textLength="11.80" lengthAdjust="spacingAndGlyphs">100</text>
<line x1="306.20" y1="546.30" x2="309.20" y2="546.30" stroke="#2a2a2a" stroke-width="1"/>
<text x="303.20" y="548.98" font-size="7.5" text-anchor="end" fill="#1a1a1a" stroke="#1a1a1a" stroke-width="0.25" textLength="11.80" lengthAdjust="spacingAndGlyphs">150</text>
<line x1="316.50" y1="611.22" x2="316.50" y2="609.44" stroke="#454545" stroke-width="1.15"/>
<line x1="314.70" y1="609.44" x2="318.30" y2="609.44" stroke="#454545" stroke-width="1.15"/>
<rect x="313.00" y="611.22" width="7.00" height="1.78" fill="#a3002b"/>
<line x1="326.30" y1="576.98" x2="326.30" y2="568.53" stroke="#454545" stroke-width="1.15"/>
<line x1="324.50" y1="568.53" x2="328.10" y2="568.53" stroke="#454545" stroke-width="1.15"/>
<rect x="322.80" y="576.98" width="7.00" height="36.02" fill="#a3002b"/>
<circle cx="326.30" cy="563.80" r="1.05" fill="#2a2a2a"/>
<line x1="336.00" y1="568.98" x2="336.00" y2="556.53" stroke="#454545" stroke-width="1.15"/>
<line x1="334.20" y1="556.53" x2="337.80" y2="556.53" stroke="#454545" stroke-width="1.15"/>
<rect x="332.50" y="568.98" width="7.00" height="44.02" fill="#a3002b"/>
<circle cx="336.00" cy="552.00" r="1.05" fill="#2a2a2a"/>
<line x1="351.50" y1="609.44" x2="351.50" y2="605.89" stroke="#454545" stroke-width="1.15"/>
<line x1="349.70" y1="605.89" x2="353.30" y2="605.89" stroke="#454545" stroke-width="1.15"/>
<rect x="348.30" y="609.74" width="6.40" height="3.26" fill="#2b4a82" stroke="#1f3b70" stroke-width="0.6"/>
<line x1="361.00" y1="581.87" x2="361.00" y2="571.65" stroke="#454545" stroke-width="1.15"/>
<line x1="359.20" y1="571.65" x2="362.80" y2="571.65" stroke="#454545" stroke-width="1.15"/>
<rect x="357.80" y="582.17" width="6.40" height="30.83" fill="#2b4a82" stroke="#1f3b70" stroke-width="0.6"/>
<circle cx="361.00" cy="566.80" r="1.05" fill="#2a2a2a"/>
<line x1="370.70" y1="576.09" x2="370.70" y2="563.20" stroke="#454545" stroke-width="1.15"/>
<line x1="368.90" y1="563.20" x2="372.50" y2="563.20" stroke="#454545" stroke-width="1.15"/>
<rect x="367.50" y="576.39" width="6.40" height="36.61" fill="#2b4a82" stroke="#1f3b70" stroke-width="0.6"/>
<circle cx="370.70" cy="557.00" r="1.05" fill="#2a2a2a"/>
<text transform="translate(271.70,578.65) rotate(-90)" x="0" y="0" font-size="9.5" text-anchor="middle" fill="#1a1a1a" stroke="#1a1a1a" stroke-width="0.25" textLength="20.00" lengthAdjust="spacingAndGlyphs">VASP</text>
<text transform="translate(283.80,578.65) rotate(-90)" x="0" y="0" font-size="9.8" text-anchor="middle" fill="#1a1a1a" stroke="#1a1a1a" stroke-width="0.25" textLength="102.50" lengthAdjust="spacingAndGlyphs">(relative phosphorylation)</text>
<rect x="386.50" y="567.60" width="88.80" height="14.40" fill="#cacaca" rx="0.3"/>
<g filter="url(#bl)">
<rect x="403.10" y="573.90" width="10.60" height="3.20" rx="1.60" fill="#141414" fill-opacity="0.82"/>
<rect x="416.20" y="573.90" width="11.10" height="3.60" rx="1.80" fill="#141414" fill-opacity="0.78"/>
<rect x="447.70" y="574.10" width="10.60" height="3.20" rx="1.60" fill="#141414" fill-opacity="0.82"/>
<rect x="461.50" y="573.40" width="11.00" height="3.20" rx="1.60" fill="#141414" fill-opacity="0.73"/>
</g>
<rect x="387.75" y="568.85" width="86.30" height="11.90" fill="none" stroke="#fff" stroke-opacity="0.22" stroke-width="1"/>
<line x1="429.40" y1="568.60" x2="429.40" y2="581.00" stroke="#fff" stroke-width="1" stroke-opacity="0.22"/>
<line x1="431.80" y1="568.60" x2="431.80" y2="581.00" stroke="#fff" stroke-width="1" stroke-opacity="0.22"/>
<rect x="386.50" y="567.60" width="88.80" height="14.40" fill="none" stroke="#222222" stroke-width="1.45" rx="0.3"/>
<line x1="430.60" y1="567.60" x2="430.60" y2="582.00" stroke="#111" stroke-width="1.25"/>
<text x="479.60" y="577.97" font-size="8.3" text-anchor="start" fill="#1a1a1a" stroke="#1a1a1a" stroke-width="0.25" textLength="23.30" lengthAdjust="spacingAndGlyphs">P-VASP</text>
<rect x="386.50" y="584.00" width="88.80" height="14.20" fill="#c8c8c8" rx="0.3"/>
<g filter="url(#bl)">
<rect x="387.00" y="587.80" width="15.00" height="4.00" rx="2.00" fill="#141414" fill-opacity="0.58"/>
<rect x="401.00" y="588.40" width="15.00" height="4.00" rx="2.00" fill="#141414" fill-opacity="0.58"/>
<rect x="415.00" y="588.80" width="16.00" height="4.00" rx="2.00" fill="#141414" fill-opacity="0.56"/>
<rect x="432.00" y="590.20" width="14.00" height="4.00" rx="2.00" fill="#141414" fill-opacity="0.58"/>
<rect x="445.00" y="589.80" width="15.00" height="4.00" rx="2.00" fill="#141414" fill-opacity="0.53"/>
<rect x="459.00" y="589.60" width="15.50" height="4.00" rx="2.00" fill="#141414" fill-opacity="0.53"/>
</g>
<rect x="387.75" y="585.25" width="86.30" height="11.70" fill="none" stroke="#fff" stroke-opacity="0.22" stroke-width="1"/>
<line x1="429.40" y1="585.00" x2="429.40" y2="597.20" stroke="#fff" stroke-width="1" stroke-opacity="0.22"/>
<line x1="431.80" y1="585.00" x2="431.80" y2="597.20" stroke="#fff" stroke-width="1" stroke-opacity="0.22"/>
<rect x="386.50" y="584.00" width="88.80" height="14.20" fill="none" stroke="#222222" stroke-width="1.45" rx="0.3"/>
<line x1="430.60" y1="584.00" x2="430.60" y2="598.20" stroke="#111" stroke-width="1.25"/>
<text x="479.60" y="593.97" font-size="8.3" text-anchor="start" fill="#1a1a1a" stroke="#1a1a1a" stroke-width="0.25" textLength="23.00" lengthAdjust="spacingAndGlyphs">&#946;-actin</text>
<rect x="386.50" y="599.60" width="88.80" height="14.20" fill="#cacaca" rx="0.3"/>
<g filter="url(#bl)">
<polygon points="388.00,607.25 399.50,607.05 399.50,608.55 388.00,608.75" fill="#141414" fill-opacity="0.48"/>
<polygon points="402.00,606.85 414.00,606.55 414.00,608.05 402.00,608.35" fill="#141414" fill-opacity="0.48"/>
<polygon points="416.00,606.45 428.00,606.05 428.00,607.55 416.00,607.95" fill="#141414" fill-opacity="0.48"/>
<polygon points="434.00,605.15 445.00,604.65 445.00,606.15 434.00,606.65" fill="#141414" fill-opacity="0.48"/>
<polygon points="448.00,604.05 459.00,603.45 459.00,604.95 448.00,605.55" fill="#141414" fill-opacity="0.48"/>
<polygon points="461.00,603.00 473.00,602.10 473.00,603.70 461.00,604.60" fill="#141414" fill-opacity="0.48"/>
</g>
<rect x="387.75" y="600.85" width="86.30" height="11.70" fill="none" stroke="#fff" stroke-opacity="0.22" stroke-width="1"/>
<line x1="429.40" y1="600.60" x2="429.40" y2="612.80" stroke="#fff" stroke-width="1" stroke-opacity="0.22"/>
<line x1="431.80" y1="600.60" x2="431.80" y2="612.80" stroke="#fff" stroke-width="1" stroke-opacity="0.22"/>
<rect x="386.50" y="599.60" width="88.80" height="14.20" fill="none" stroke="#222222" stroke-width="1.45" rx="0.3"/>
<line x1="430.60" y1="599.60" x2="430.60" y2="613.80" stroke="#111" stroke-width="1.25"/>
<text x="479.60" y="609.87" font-size="8.3" text-anchor="start" fill="#1a1a1a" stroke="#1a1a1a" stroke-width="0.25" textLength="16.90" lengthAdjust="spacingAndGlyphs">VASP</text>
<text x="139.40" y="263.74" font-size="8.2" text-anchor="start" fill="#1a1a1a" stroke="#1a1a1a" stroke-width="0.25" textLength="25.80" lengthAdjust="spacingAndGlyphs">ACC WT</text>
<text x="183.30" y="263.74" font-size="8.2" text-anchor="start" fill="#1a1a1a" stroke="#1a1a1a" stroke-width="0.25" textLength="26.90" lengthAdjust="spacingAndGlyphs">ACC DKI</text>
<text x="396.20" y="263.74" font-size="8.2" text-anchor="start" fill="#1a1a1a" stroke="#1a1a1a" stroke-width="0.25" textLength="26.30" lengthAdjust="spacingAndGlyphs">ACC WT</text>
<text x="439.80" y="263.74" font-size="8.2" text-anchor="start" fill="#1a1a1a" stroke="#1a1a1a" stroke-width="0.25" textLength="27.70" lengthAdjust="spacingAndGlyphs">ACC DKI</text>
<text x="60.00" y="626.73" font-size="7.9" text-anchor="middle" fill="#1a1a1a" stroke="#1a1a1a" stroke-width="0.25" textLength="3.90" lengthAdjust="spacingAndGlyphs">0</text>
<text x="69.75" y="626.73" font-size="7.9" text-anchor="middle" fill="#1a1a1a" stroke="#1a1a1a" stroke-width="0.25" textLength="3.90" lengthAdjust="spacingAndGlyphs">1</text>
<text x="79.25" y="626.73" font-size="7.9" text-anchor="middle" fill="#1a1a1a" stroke="#1a1a1a" stroke-width="0.25" textLength="3.90" lengthAdjust="spacingAndGlyphs">5</text>
<text x="95.00" y="626.73" font-size="7.9" text-anchor="middle" fill="#1a1a1a" stroke="#1a1a1a" stroke-width="0.25" textLength="3.90" lengthAdjust="spacingAndGlyphs">0</text>
<text x="104.25" y="626.73" font-size="7.9" text-anchor="middle" fill="#1a1a1a" stroke="#1a1a1a" stroke-width="0.25" textLength="3.90" lengthAdjust="spacingAndGlyphs">1</text>
<text x="113.75" y="626.73" font-size="7.9" text-anchor="middle" fill="#1a1a1a" stroke="#1a1a1a" stroke-width="0.25" textLength="3.90" lengthAdjust="spacingAndGlyphs">5</text>
<line x1="59.00" y1="636.50" x2="61.00" y2="636.50" stroke="#555" stroke-width="1.0"/>
<line x1="67.60" y1="636.50" x2="71.40" y2="636.50" stroke="#333" stroke-width="1.0"/>
<line x1="69.50" y1="634.60" x2="69.50" y2="638.40" stroke="#333" stroke-width="1.0"/>
<line x1="77.60" y1="636.50" x2="81.40" y2="636.50" stroke="#333" stroke-width="1.0"/>
<line x1="79.50" y1="634.60" x2="79.50" y2="638.40" stroke="#333" stroke-width="1.0"/>
<line x1="94.00" y1="636.50" x2="96.00" y2="636.50" stroke="#555" stroke-width="1.0"/>
<line x1="102.60" y1="636.50" x2="106.40" y2="636.50" stroke="#333" stroke-width="1.0"/>
<line x1="104.50" y1="634.60" x2="104.50" y2="638.40" stroke="#333" stroke-width="1.0"/>
<line x1="111.60" y1="636.50" x2="115.40" y2="636.50" stroke="#333" stroke-width="1.0"/>
<line x1="113.50" y1="634.60" x2="113.50" y2="638.40" stroke="#333" stroke-width="1.0"/>
<text x="138.80" y="626.93" font-size="7.9" text-anchor="middle" fill="#1a1a1a" stroke="#1a1a1a" stroke-width="0.25" textLength="3.90" lengthAdjust="spacingAndGlyphs">0</text>
<text x="153.10" y="626.93" font-size="7.9" text-anchor="middle" fill="#1a1a1a" stroke="#1a1a1a" stroke-width="0.25" textLength="3.90" lengthAdjust="spacingAndGlyphs">1</text>
<text x="167.10" y="626.93" font-size="7.9" text-anchor="middle" fill="#1a1a1a" stroke="#1a1a1a" stroke-width="0.25" textLength="3.90" lengthAdjust="spacingAndGlyphs">5</text>
<text x="182.70" y="626.93" font-size="7.9" text-anchor="middle" fill="#1a1a1a" stroke="#1a1a1a" stroke-width="0.25" textLength="3.90" lengthAdjust="spacingAndGlyphs">0</text>
<text x="195.40" y="626.93" font-size="7.9" text-anchor="middle" fill="#1a1a1a" stroke="#1a1a1a" stroke-width="0.25" textLength="3.90" lengthAdjust="spacingAndGlyphs">1</text>
<text x="209.70" y="626.93" font-size="7.9" text-anchor="middle" fill="#1a1a1a" stroke="#1a1a1a" stroke-width="0.25" textLength="3.90" lengthAdjust="spacingAndGlyphs">5</text>
<line x1="137.80" y1="636.50" x2="139.80" y2="636.50" stroke="#555" stroke-width="1.0"/>
<line x1="151.60" y1="636.50" x2="155.40" y2="636.50" stroke="#333" stroke-width="1.0"/>
<line x1="153.50" y1="634.60" x2="153.50" y2="638.40" stroke="#333" stroke-width="1.0"/>
<line x1="165.60" y1="636.50" x2="169.40" y2="636.50" stroke="#333" stroke-width="1.0"/>
<line x1="167.50" y1="634.60" x2="167.50" y2="638.40" stroke="#333" stroke-width="1.0"/>
<line x1="181.70" y1="636.50" x2="183.70" y2="636.50" stroke="#555" stroke-width="1.0"/>
<line x1="193.60" y1="636.50" x2="197.40" y2="636.50" stroke="#333" stroke-width="1.0"/>
<line x1="195.50" y1="634.60" x2="195.50" y2="638.40" stroke="#333" stroke-width="1.0"/>
<line x1="207.60" y1="636.50" x2="211.40" y2="636.50" stroke="#333" stroke-width="1.0"/>
<line x1="209.50" y1="634.60" x2="209.50" y2="638.40" stroke="#333" stroke-width="1.0"/>
<text x="317.00" y="626.83" font-size="7.9" text-anchor="middle" fill="#1a1a1a" stroke="#1a1a1a" stroke-width="0.25" textLength="3.90" lengthAdjust="spacingAndGlyphs">0</text>
<text x="326.25" y="626.83" font-size="7.9" text-anchor="middle" fill="#1a1a1a" stroke="#1a1a1a" stroke-width="0.25" textLength="3.90" lengthAdjust="spacingAndGlyphs">1</text>
<text x="335.75" y="626.83" font-size="7.9" text-anchor="middle" fill="#1a1a1a" stroke="#1a1a1a" stroke-width="0.25" textLength="3.90" lengthAdjust="spacingAndGlyphs">5</text>
<text x="352.00" y="626.83" font-size="7.9" text-anchor="middle" fill="#1a1a1a" stroke="#1a1a1a" stroke-width="0.25" textLength="3.90" lengthAdjust="spacingAndGlyphs">0</text>
<text x="361.25" y="626.83" font-size="7.9" text-anchor="middle" fill="#1a1a1a" stroke="#1a1a1a" stroke-width="0.25" textLength="3.90" lengthAdjust="spacingAndGlyphs">1</text>
<text x="370.50" y="626.83" font-size="7.9" text-anchor="middle" fill="#1a1a1a" stroke="#1a1a1a" stroke-width="0.25" textLength="3.90" lengthAdjust="spacingAndGlyphs">5</text>
<line x1="316.00" y1="636.50" x2="318.00" y2="636.50" stroke="#555" stroke-width="1.0"/>
<line x1="324.60" y1="636.50" x2="328.40" y2="636.50" stroke="#333" stroke-width="1.0"/>
<line x1="326.50" y1="634.60" x2="326.50" y2="638.40" stroke="#333" stroke-width="1.0"/>
<line x1="333.60" y1="636.50" x2="337.40" y2="636.50" stroke="#333" stroke-width="1.0"/>
<line x1="335.50" y1="634.60" x2="335.50" y2="638.40" stroke="#333" stroke-width="1.0"/>
<line x1="351.00" y1="636.50" x2="353.00" y2="636.50" stroke="#555" stroke-width="1.0"/>
<line x1="359.60" y1="636.50" x2="363.40" y2="636.50" stroke="#333" stroke-width="1.0"/>
<line x1="361.50" y1="634.60" x2="361.50" y2="638.40" stroke="#333" stroke-width="1.0"/>
<line x1="368.60" y1="636.50" x2="372.40" y2="636.50" stroke="#333" stroke-width="1.0"/>
<line x1="370.50" y1="634.60" x2="370.50" y2="638.40" stroke="#333" stroke-width="1.0"/>
<text x="392.70" y="626.93" font-size="7.9" text-anchor="middle" fill="#1a1a1a" stroke="#1a1a1a" stroke-width="0.25" textLength="3.90" lengthAdjust="spacingAndGlyphs">0</text>
<text x="406.90" y="626.93" font-size="7.9" text-anchor="middle" fill="#1a1a1a" stroke="#1a1a1a" stroke-width="0.25" textLength="3.90" lengthAdjust="spacingAndGlyphs">1</text>
<text x="420.90" y="626.93" font-size="7.9" text-anchor="middle" fill="#1a1a1a" stroke="#1a1a1a" stroke-width="0.25" textLength="3.90" lengthAdjust="spacingAndGlyphs">5</text>
<text x="436.50" y="626.93" font-size="7.9" text-anchor="middle" fill="#1a1a1a" stroke="#1a1a1a" stroke-width="0.25" textLength="3.90" lengthAdjust="spacingAndGlyphs">0</text>
<text x="449.50" y="626.93" font-size="7.9" text-anchor="middle" fill="#1a1a1a" stroke="#1a1a1a" stroke-width="0.25" textLength="3.90" lengthAdjust="spacingAndGlyphs">1</text>
<text x="463.50" y="626.93" font-size="7.9" text-anchor="middle" fill="#1a1a1a" stroke="#1a1a1a" stroke-width="0.25" textLength="3.90" lengthAdjust="spacingAndGlyphs">5</text>
<line x1="391.70" y1="636.50" x2="393.70" y2="636.50" stroke="#555" stroke-width="1.0"/>
<line x1="404.60" y1="636.50" x2="408.40" y2="636.50" stroke="#333" stroke-width="1.0"/>
<line x1="406.50" y1="634.60" x2="406.50" y2="638.40" stroke="#333" stroke-width="1.0"/>
<line x1="418.60" y1="636.50" x2="422.40" y2="636.50" stroke="#333" stroke-width="1.0"/>
<line x1="420.50" y1="634.60" x2="420.50" y2="638.40" stroke="#333" stroke-width="1.0"/>
<line x1="435.50" y1="636.50" x2="437.50" y2="636.50" stroke="#555" stroke-width="1.0"/>
<line x1="447.60" y1="636.50" x2="451.40" y2="636.50" stroke="#333" stroke-width="1.0"/>
<line x1="449.50" y1="634.60" x2="449.50" y2="638.40" stroke="#333" stroke-width="1.0"/>
<line x1="461.60" y1="636.50" x2="465.40" y2="636.50" stroke="#333" stroke-width="1.0"/>
<line x1="463.50" y1="634.60" x2="463.50" y2="638.40" stroke="#333" stroke-width="1.0"/>
<text x="221.20" y="627.04" font-size="8.2" text-anchor="start" fill="#1a1a1a" stroke="#1a1a1a" stroke-width="0.25" textLength="36.00" lengthAdjust="spacingAndGlyphs">Time (min)</text>
<text x="221.20" y="639.14" font-size="8.2" text-anchor="start" fill="#1a1a1a" stroke="#1a1a1a" stroke-width="0.25" textLength="32.60" lengthAdjust="spacingAndGlyphs">Thrombin</text>
<text x="475.60" y="627.04" font-size="8.2" text-anchor="start" fill="#1a1a1a" stroke="#1a1a1a" stroke-width="0.25" textLength="35.80" lengthAdjust="spacingAndGlyphs">Time (min)</text>
<text x="475.60" y="639.14" font-size="8.2" text-anchor="start" fill="#1a1a1a" stroke="#1a1a1a" stroke-width="0.25" textLength="29.60" lengthAdjust="spacingAndGlyphs">Collagen</text>
</svg>
</body></html>
